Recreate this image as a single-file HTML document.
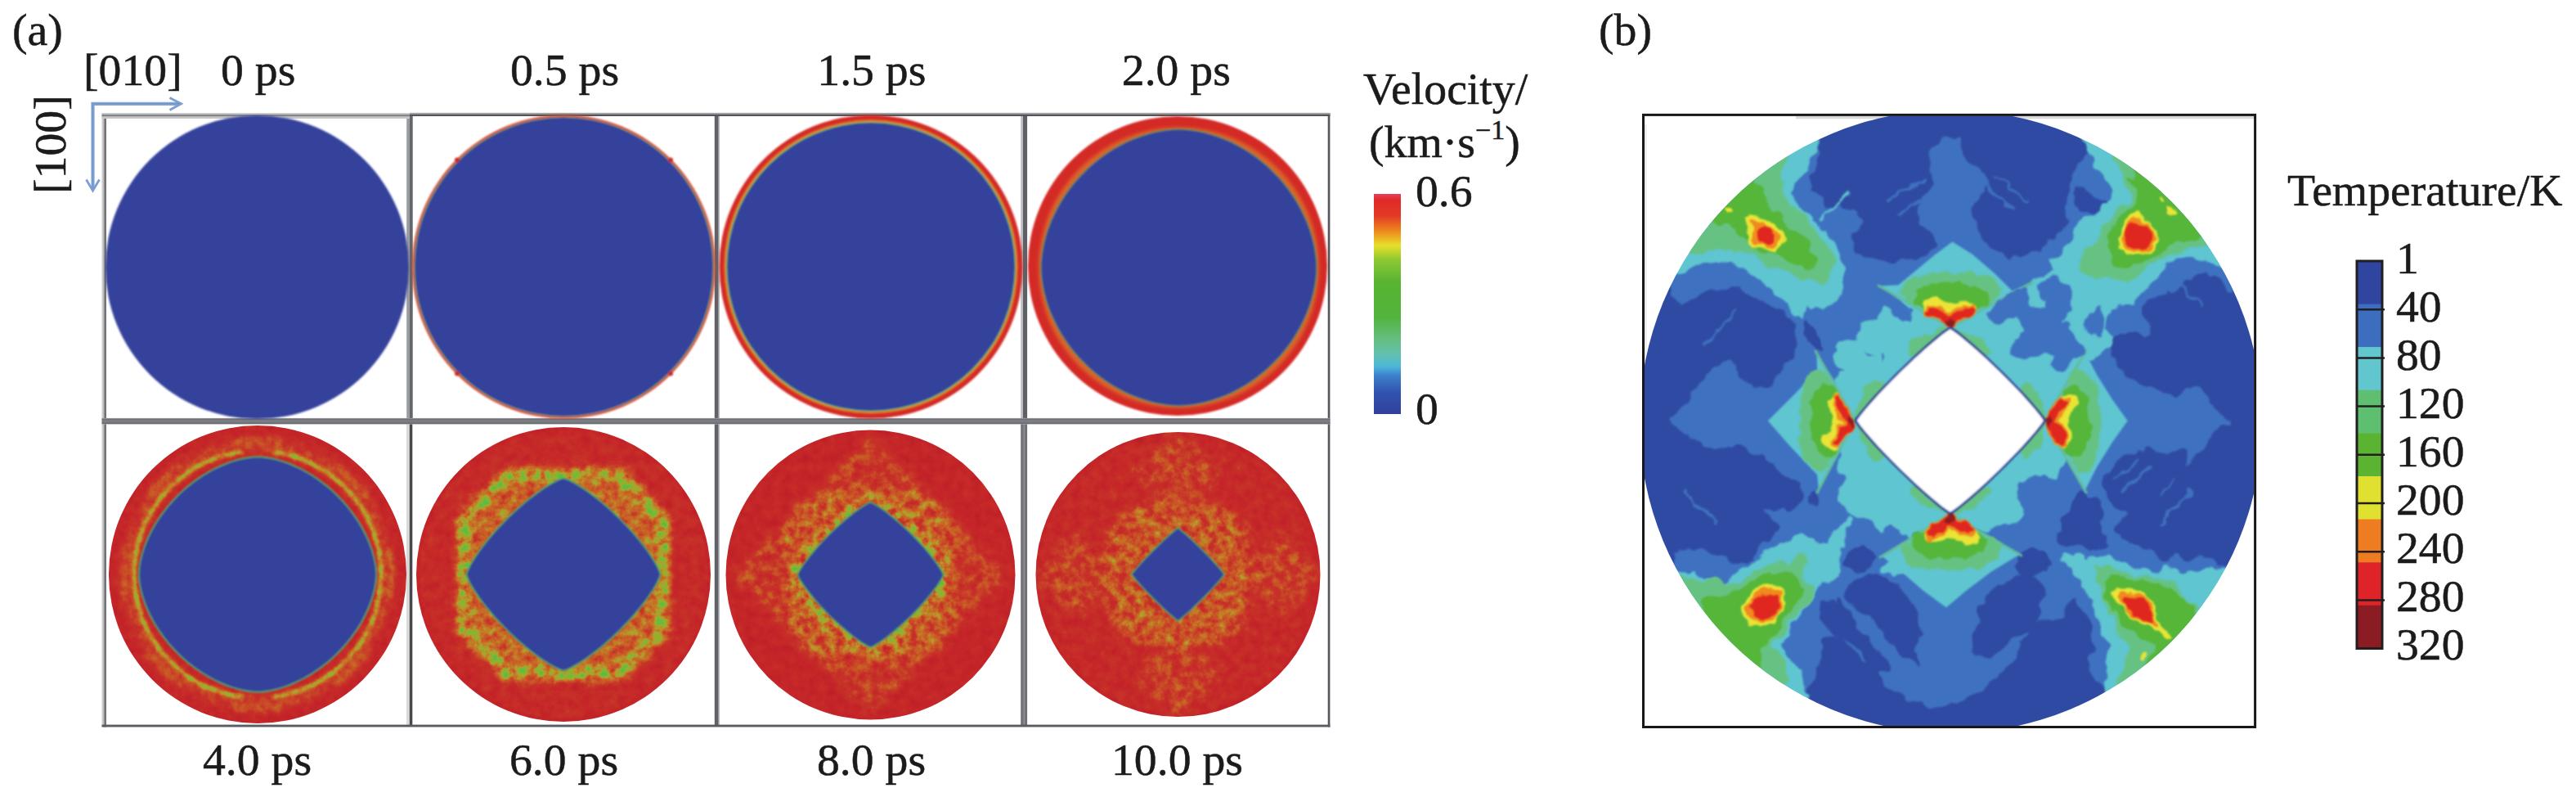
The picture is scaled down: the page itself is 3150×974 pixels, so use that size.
<!DOCTYPE html>
<html><head><meta charset="utf-8"><title>fig</title>
<style>
html,body{margin:0;padding:0;background:#fff;}
body{width:3150px;height:974px;overflow:hidden;font-family:"Liberation Serif",serif;}
svg{display:block;position:absolute;left:0;top:0}
</style></head><body>
<svg width="3150" height="974" viewBox="0 0 3150 974">
<defs>
<linearGradient id="gh" x1="0" y1="0" x2="0" y2="1">
 <stop offset="0" stop-color="#bcbcc0"/><stop offset="0.3" stop-color="#888a90"/><stop offset="1" stop-color="#62646a"/>
</linearGradient>
<linearGradient id="gv" x1="0" y1="0" x2="1" y2="0">
 <stop offset="0" stop-color="#bcbcc0"/><stop offset="0.3" stop-color="#888a90"/><stop offset="1" stop-color="#62646a"/>
</linearGradient>
<linearGradient id="gvL" x1="0" y1="0" x2="1" y2="0"><stop offset="0" stop-color="#d2d2d2"/><stop offset="0.45" stop-color="#bcbcbe"/><stop offset="0.6" stop-color="#77787c"/><stop offset="1" stop-color="#6e6f74"/></linearGradient>
<linearGradient id="gvC" x1="0" y1="0" x2="1" y2="0"><stop offset="0" stop-color="#6c6e74"/><stop offset="0.4" stop-color="#74767c"/><stop offset="0.5" stop-color="#a8a8ac"/><stop offset="0.6" stop-color="#74767c"/><stop offset="1" stop-color="#6a6c72"/></linearGradient>
<linearGradient id="gh1" x1="0" y1="0" x2="0" y2="1"><stop offset="0" stop-color="#d0d0d0"/><stop offset="0.22" stop-color="#c2c2c4"/><stop offset="0.3" stop-color="#85868c"/><stop offset="0.58" stop-color="#85868c"/><stop offset="0.66" stop-color="#c4c4c4"/><stop offset="1" stop-color="#c8c8c8"/></linearGradient>
<linearGradient id="gh2" x1="0" y1="0" x2="0" y2="1"><stop offset="0" stop-color="#b8b2b0"/><stop offset="0.45" stop-color="#8e8e92"/><stop offset="0.55" stop-color="#54585e"/><stop offset="1" stop-color="#50545a"/></linearGradient>
<linearGradient id="ghM" x1="0" y1="0" x2="0" y2="1"><stop offset="0" stop-color="#b4b4b8"/><stop offset="0.15" stop-color="#6c6e74"/><stop offset="0.5" stop-color="#808288"/><stop offset="0.85" stop-color="#696b71"/><stop offset="1" stop-color="#acacb0"/></linearGradient>
<linearGradient id="cbv" x1="0" y1="0" x2="0" y2="1">
 <stop offset="0" stop-color="#e4405a"/>
 <stop offset="0.03" stop-color="#e02a2a"/>
 <stop offset="0.10" stop-color="#e23a24"/>
 <stop offset="0.17" stop-color="#ee8a1e"/>
 <stop offset="0.235" stop-color="#e6e02a"/>
 <stop offset="0.30" stop-color="#8cc832"/>
 <stop offset="0.40" stop-color="#58b432"/>
 <stop offset="0.56" stop-color="#52b43c"/>
 <stop offset="0.66" stop-color="#66be80"/>
 <stop offset="0.73" stop-color="#62c0b0"/>
 <stop offset="0.785" stop-color="#4cb6d8"/>
 <stop offset="0.825" stop-color="#3c80cc"/>
 <stop offset="0.90" stop-color="#3054b0"/>
 <stop offset="1" stop-color="#30409c"/>
</linearGradient>
<filter id="b1" x="-5%" y="-5%" width="110%" height="110%"><feGaussianBlur stdDeviation="1"/></filter>
<filter id="b2" x="-5%" y="-5%" width="110%" height="110%"><feGaussianBlur stdDeviation="2"/></filter>
<filter id="b3" x="-10%" y="-10%" width="120%" height="120%"><feGaussianBlur stdDeviation="3.5"/></filter>
<filter id="b6" x="-10%" y="-10%" width="120%" height="120%"><feGaussianBlur stdDeviation="6"/></filter>
<filter id="b10" x="-20%" y="-20%" width="140%" height="140%"><feGaussianBlur stdDeviation="10"/></filter>

<filter id="nzA" x="0" y="0" width="100%" height="100%" color-interpolation-filters="sRGB" filterUnits="objectBoundingBox">
 <feTurbulence type="fractalNoise" baseFrequency="0.11" numOctaves="3" seed="3" result="t"/>
 <feColorMatrix in="t" type="matrix" values="1 0 0 0 0  1 0 0 0 0  1 0 0 0 0  0 0 0 0 1" result="n"/>
 <feColorMatrix in="SourceGraphic" type="matrix" values="1 0 0 0 0  1 0 0 0 0  1 0 0 0 0  0 0 0 0 1" result="f"/>
 <feComposite in="n" in2="f" operator="arithmetic" k1="0.5" k2="0.3" k3="0.95" k4="-0.02" result="v"/>
 <feColorMatrix in="v" type="matrix" values="1 0 0 0 0  1 0 0 0 0  1 0 0 0 0  0 0 0 0 1" result="v2"/>
 <feComponentTransfer in="v2">
  <feFuncR type="table" tableValues="0.73 0.775 0.78 0.79 0.78 0.70 0.52 0.36"/>
  <feFuncG type="table" tableValues="0.12 0.15 0.20 0.32 0.45 0.62 0.72 0.74"/>
  <feFuncB type="table" tableValues="0.15 0.16 0.16 0.15 0.15 0.17 0.20 0.26"/>
 </feComponentTransfer>
</filter>
<filter id="nzB" x="0" y="0" width="100%" height="100%" color-interpolation-filters="sRGB" filterUnits="objectBoundingBox">
 <feTurbulence type="fractalNoise" baseFrequency="0.09" numOctaves="3" seed="11" result="t"/>
 <feColorMatrix in="t" type="matrix" values="1 0 0 0 0  1 0 0 0 0  1 0 0 0 0  0 0 0 0 1" result="n"/>
 <feColorMatrix in="SourceGraphic" type="matrix" values="1 0 0 0 0  1 0 0 0 0  1 0 0 0 0  0 0 0 0 1" result="f"/>
 <feComposite in="n" in2="f" operator="arithmetic" k1="1.4" k2="0.3" k3="0.35" k4="-0.02" result="v"/>
 <feColorMatrix in="v" type="matrix" values="1 0 0 0 0  1 0 0 0 0  1 0 0 0 0  0 0 0 0 1" result="v2"/>
 <feComponentTransfer in="v2">
  <feFuncR type="table" tableValues="0.73 0.775 0.78 0.79 0.78 0.70 0.52 0.36"/>
  <feFuncG type="table" tableValues="0.12 0.15 0.20 0.32 0.45 0.62 0.72 0.74"/>
  <feFuncB type="table" tableValues="0.15 0.16 0.16 0.15 0.15 0.17 0.20 0.26"/>
 </feComponentTransfer>
</filter>
<filter id="nzC" x="0" y="0" width="100%" height="100%" color-interpolation-filters="sRGB" filterUnits="objectBoundingBox">
 <feTurbulence type="fractalNoise" baseFrequency="0.09" numOctaves="3" seed="23" result="t"/>
 <feColorMatrix in="t" type="matrix" values="1 0 0 0 0  1 0 0 0 0  1 0 0 0 0  0 0 0 0 1" result="n"/>
 <feColorMatrix in="SourceGraphic" type="matrix" values="1 0 0 0 0  1 0 0 0 0  1 0 0 0 0  0 0 0 0 1" result="f"/>
 <feComposite in="n" in2="f" operator="arithmetic" k1="1.8" k2="0.3" k3="0.1" k4="-0.02" result="v"/>
 <feColorMatrix in="v" type="matrix" values="1 0 0 0 0  1 0 0 0 0  1 0 0 0 0  0 0 0 0 1" result="v2"/>
 <feComponentTransfer in="v2">
  <feFuncR type="table" tableValues="0.73 0.775 0.78 0.79 0.78 0.70 0.52 0.36"/>
  <feFuncG type="table" tableValues="0.12 0.15 0.20 0.32 0.45 0.62 0.72 0.74"/>
  <feFuncB type="table" tableValues="0.15 0.16 0.16 0.15 0.15 0.17 0.20 0.26"/>
 </feComponentTransfer>
</filter>
<filter id="nzD" x="0" y="0" width="100%" height="100%" color-interpolation-filters="sRGB" filterUnits="objectBoundingBox">
 <feTurbulence type="fractalNoise" baseFrequency="0.09" numOctaves="3" seed="37" result="t"/>
 <feColorMatrix in="t" type="matrix" values="1 0 0 0 0  1 0 0 0 0  1 0 0 0 0  0 0 0 0 1" result="n"/>
 <feColorMatrix in="SourceGraphic" type="matrix" values="1 0 0 0 0  1 0 0 0 0  1 0 0 0 0  0 0 0 0 1" result="f"/>
 <feComposite in="n" in2="f" operator="arithmetic" k1="1.8" k2="0.3" k3="0.1" k4="-0.02" result="v"/>
 <feColorMatrix in="v" type="matrix" values="1 0 0 0 0  1 0 0 0 0  1 0 0 0 0  0 0 0 0 1" result="v2"/>
 <feComponentTransfer in="v2">
  <feFuncR type="table" tableValues="0.73 0.775 0.78 0.79 0.78 0.70 0.52 0.36"/>
  <feFuncG type="table" tableValues="0.12 0.15 0.20 0.32 0.45 0.62 0.72 0.74"/>
  <feFuncB type="table" tableValues="0.15 0.16 0.16 0.15 0.15 0.17 0.20 0.26"/>
 </feComponentTransfer>
</filter><clipPath id="clipnzA"><circle cx="315" cy="702" r="182"/></clipPath><clipPath id="clipnzB"><circle cx="689" cy="702" r="180"/></clipPath><clipPath id="clipnzC"><circle cx="1064.5" cy="702.5" r="177"/></clipPath><clipPath id="clipnzD"><circle cx="1440.5" cy="702" r="174"/></clipPath><clipPath id="clipb"><circle cx="2385.5" cy="515.2" r="380.8"/></clipPath><clipPath id="clipbox"><rect x="2011" y="141.9" width="745.1" height="745.1"/></clipPath><filter id="rag" x="0" y="0" width="100%" height="100%" filterUnits="objectBoundingBox" color-interpolation-filters="sRGB"><feTurbulence type="fractalNoise" baseFrequency="0.06" numOctaves="2" seed="7" result="t"/><feDisplacementMap in="SourceGraphic" in2="t" scale="14" xChannelSelector="R" yChannelSelector="G" result="d"/><feGaussianBlur in="d" stdDeviation="0.9"/></filter></defs>
<g id="grid">
<rect x="124.5" y="138" width="5.50" height="750.50" fill="url(#gvL)"/>
<rect x="497.2" y="138" width="3.80" height="377.00" fill="#9a9ca0"/>
<rect x="501" y="138" width="3.70" height="377.00" fill="#62666c"/>
<rect x="497" y="515" width="3.80" height="373.00" fill="#d9d9d9"/>
<rect x="500.8" y="515" width="3.50" height="373.00" fill="#46484c"/>
<rect x="873.8" y="138" width="4.80" height="750.00" fill="#606268"/>
<rect x="878.6" y="138" width="1.00" height="750.00" fill="#8e8f94"/>
<rect x="1248.2" y="138" width="2.80" height="377.00" fill="#bebec2"/>
<rect x="1251" y="138" width="5.10" height="377.00" fill="#5e6066"/>
<rect x="1248.2" y="515" width="7.90" height="373.00" fill="url(#gvC)"/>
<rect x="1623.7" y="138" width="2.70" height="750.50" fill="#55575c"/>
<rect x="124.5" y="138" width="376.50" height="7.00" fill="url(#gh1)"/>
<rect x="501" y="137.8" width="1125.40" height="4.20" fill="url(#gh2)"/>
<rect x="124.5" y="510.9" width="1501.90" height="7.70" fill="url(#ghM)"/>
<rect x="124.5" y="885.6" width="1501.90" height="2.90" fill="#5a5c62"/>
</g>
<g filter="url(#b1)">
<circle cx="314.5" cy="326.5" r="185.5" fill="#35429b"/>
<circle cx="689.5" cy="326" r="185.6" fill="#d63a2c"/>
<circle cx="689.5" cy="326" r="183.6" fill="#86a860"/>
<circle cx="689.5" cy="326" r="182.4" fill="#35429b"/>
<circle cx="559.0" cy="195.5" r="3" fill="#cc262a"/>
<circle cx="559.0" cy="456.5" r="3" fill="#cc262a"/>
<circle cx="820.0" cy="195.5" r="3" fill="#cc262a"/>
<circle cx="820.0" cy="456.5" r="3" fill="#cc262a"/>
<circle cx="1065" cy="326" r="185.5" fill="#d42a28"/>
<circle cx="1065" cy="326" r="180" fill="#dc5a26"/>
<circle cx="1065" cy="326" r="178.3" fill="#d4a030"/>
<circle cx="1065" cy="326" r="177" fill="#58a070"/>
<circle cx="1065" cy="326" r="175.7" fill="#35429b"/>
<circle cx="1440" cy="325" r="183" fill="#d42a28"/>
</g>
<g filter="url(#b2)"><circle cx="1441.5" cy="327" r="171.5" fill="#d9652a"/></g>
<g filter="url(#b1)"><path d="M1611.0,327.0 L1610.8,334.1 L1610.0,342.0 L1608.8,350.1 L1607.0,358.4 L1604.8,366.7 L1602.1,375.1 L1598.9,383.4 L1595.3,391.6 L1591.2,399.7 L1586.7,407.7 L1581.8,415.4 L1576.5,423.0 L1570.8,430.3 L1564.7,437.4 L1558.3,444.1 L1551.5,450.5 L1544.5,456.6 L1537.2,462.4 L1529.7,467.7 L1521.9,472.6 L1514.0,477.2 L1505.9,481.2 L1497.7,484.9 L1489.4,488.1 L1481.1,490.8 L1472.8,493.0 L1464.6,494.8 L1456.4,496.0 L1448.6,496.7 L1441.5,497.0 L1434.4,496.7 L1426.6,496.0 L1418.4,494.8 L1410.2,493.0 L1401.9,490.8 L1393.6,488.1 L1385.3,484.9 L1377.1,481.2 L1369.0,477.2 L1361.1,472.6 L1353.3,467.7 L1345.8,462.4 L1338.5,456.6 L1331.5,450.5 L1324.7,444.1 L1318.3,437.4 L1312.2,430.3 L1306.5,423.0 L1301.2,415.4 L1296.3,407.7 L1291.8,399.7 L1287.7,391.6 L1284.1,383.4 L1280.9,375.1 L1278.2,366.7 L1276.0,358.4 L1274.2,350.1 L1273.0,342.0 L1272.2,334.1 L1272.0,327.0 L1272.2,319.9 L1273.0,312.0 L1274.2,303.9 L1276.0,295.6 L1278.2,287.3 L1280.9,278.9 L1284.1,270.6 L1287.7,262.4 L1291.8,254.3 L1296.3,246.3 L1301.2,238.6 L1306.5,231.0 L1312.2,223.7 L1318.3,216.6 L1324.7,209.9 L1331.5,203.5 L1338.5,197.4 L1345.8,191.6 L1353.3,186.3 L1361.1,181.4 L1369.0,176.8 L1377.1,172.8 L1385.3,169.1 L1393.6,165.9 L1401.9,163.2 L1410.2,161.0 L1418.4,159.2 L1426.6,158.0 L1434.4,157.3 L1441.5,157.0 L1448.6,157.3 L1456.4,158.0 L1464.6,159.2 L1472.8,161.0 L1481.1,163.2 L1489.4,165.9 L1497.7,169.1 L1505.9,172.8 L1514.0,176.8 L1521.9,181.4 L1529.7,186.3 L1537.2,191.6 L1544.5,197.4 L1551.5,203.5 L1558.3,209.9 L1564.7,216.6 L1570.8,223.7 L1576.5,231.0 L1581.8,238.6 L1586.7,246.3 L1591.2,254.3 L1595.3,262.4 L1598.9,270.6 L1602.1,278.9 L1604.8,287.3 L1607.0,295.6 L1608.8,303.9 L1610.0,312.0 L1610.8,319.9Z" fill="#7a8a50"/><path d="M1609.5,327.0 L1609.3,334.1 L1608.5,341.9 L1607.3,349.9 L1605.6,358.1 L1603.4,366.4 L1600.7,374.7 L1597.5,382.9 L1593.9,391.0 L1589.9,399.1 L1585.4,407.0 L1580.5,414.7 L1575.3,422.2 L1569.6,429.4 L1563.6,436.4 L1557.2,443.1 L1550.6,449.5 L1543.6,455.5 L1536.4,461.2 L1528.9,466.5 L1521.2,471.4 L1513.4,475.8 L1505.4,479.9 L1497.2,483.5 L1489.0,486.6 L1480.8,489.3 L1472.5,491.5 L1464.4,493.3 L1456.3,494.5 L1448.5,495.3 L1441.5,495.5 L1434.5,495.3 L1426.7,494.5 L1418.6,493.3 L1410.5,491.5 L1402.2,489.3 L1394.0,486.6 L1385.8,483.5 L1377.6,479.9 L1369.6,475.8 L1361.8,471.4 L1354.1,466.5 L1346.6,461.2 L1339.4,455.5 L1332.4,449.5 L1325.8,443.1 L1319.4,436.4 L1313.4,429.4 L1307.7,422.2 L1302.5,414.7 L1297.6,407.0 L1293.1,399.1 L1289.1,391.0 L1285.5,382.9 L1282.3,374.7 L1279.6,366.4 L1277.4,358.1 L1275.7,349.9 L1274.5,341.9 L1273.7,334.1 L1273.5,327.0 L1273.7,319.9 L1274.5,312.1 L1275.7,304.1 L1277.4,295.9 L1279.6,287.6 L1282.3,279.3 L1285.5,271.1 L1289.1,263.0 L1293.1,254.9 L1297.6,247.0 L1302.5,239.3 L1307.7,231.8 L1313.4,224.6 L1319.4,217.6 L1325.8,210.9 L1332.4,204.5 L1339.4,198.5 L1346.6,192.8 L1354.1,187.5 L1361.8,182.6 L1369.6,178.2 L1377.6,174.1 L1385.8,170.5 L1394.0,167.4 L1402.2,164.7 L1410.5,162.5 L1418.6,160.7 L1426.7,159.5 L1434.5,158.7 L1441.5,158.5 L1448.5,158.7 L1456.3,159.5 L1464.4,160.7 L1472.5,162.5 L1480.8,164.7 L1489.0,167.4 L1497.2,170.5 L1505.4,174.1 L1513.4,178.2 L1521.2,182.6 L1528.9,187.5 L1536.4,192.8 L1543.6,198.5 L1550.6,204.5 L1557.2,210.9 L1563.6,217.6 L1569.6,224.6 L1575.3,231.8 L1580.5,239.3 L1585.4,247.0 L1589.9,254.9 L1593.9,263.0 L1597.5,271.1 L1600.7,279.3 L1603.4,287.6 L1605.6,295.9 L1607.3,304.1 L1608.5,312.1 L1609.3,319.9Z" fill="#35429b"/></g>
<g clip-path="url(#clipnzA)">
<g filter="url(#nzA)"><rect x="127" y="514" width="376" height="376" fill="#000"/><g filter="url(#b6)"><circle cx="315" cy="702" r="157" fill="none" stroke="#333333" stroke-width="18"/></g><g filter="url(#b2)"><circle cx="315" cy="702" r="151" fill="none" stroke="#a3a3a3" stroke-width="4.5" stroke-dasharray="437 37.4" stroke-dashoffset="-255.9"/></g><g filter="url(#b3)"><circle cx="315" cy="702" r="164" fill="none" stroke="#4c4c4c" stroke-width="7" stroke-dasharray="60 68.8" stroke-dashoffset="-98"/></g></g>
</g>
<circle cx="315" cy="702" r="182" fill="none" stroke="#fff" stroke-width="0"/>
<g filter="url(#b1)"><path d="M461.3,702.0 L461.1,706.9 L460.4,712.8 L459.2,719.2 L457.6,725.8 L455.6,732.6 L453.1,739.5 L450.2,746.5 L446.9,753.5 L443.1,760.4 L439.0,767.3 L434.5,774.0 L429.7,780.6 L424.5,787.0 L419.0,793.2 L413.2,799.2 L407.2,804.9 L400.9,810.4 L394.4,815.5 L387.8,820.3 L381.0,824.7 L374.0,828.8 L367.0,832.5 L360.0,835.8 L352.9,838.7 L345.9,841.1 L339.1,843.2 L332.3,844.8 L325.9,845.9 L319.9,846.6 L315.0,846.8 L310.1,846.6 L304.1,845.9 L297.7,844.8 L290.9,843.2 L284.1,841.1 L277.1,838.7 L270.0,835.8 L263.0,832.5 L256.0,828.8 L249.0,824.7 L242.2,820.3 L235.6,815.5 L229.1,810.4 L222.8,804.9 L216.8,799.2 L211.0,793.2 L205.5,787.0 L200.3,780.6 L195.5,774.0 L191.0,767.3 L186.9,760.4 L183.1,753.5 L179.8,746.5 L176.9,739.5 L174.4,732.6 L172.4,725.8 L170.8,719.2 L169.6,712.8 L168.9,706.9 L168.7,702.0 L168.9,697.1 L169.6,691.2 L170.8,684.8 L172.4,678.2 L174.4,671.4 L176.9,664.5 L179.8,657.5 L183.1,650.5 L186.9,643.6 L191.0,636.7 L195.5,630.0 L200.3,623.4 L205.5,617.0 L211.0,610.8 L216.8,604.8 L222.8,599.1 L229.1,593.6 L235.6,588.5 L242.2,583.7 L249.0,579.3 L256.0,575.2 L263.0,571.5 L270.0,568.2 L277.1,565.3 L284.1,562.9 L290.9,560.8 L297.7,559.2 L304.1,558.1 L310.1,557.4 L315.0,557.2 L319.9,557.4 L325.9,558.1 L332.3,559.2 L339.1,560.8 L345.9,562.9 L352.9,565.3 L360.0,568.2 L367.0,571.5 L374.0,575.2 L381.0,579.3 L387.8,583.7 L394.4,588.5 L400.9,593.6 L407.2,599.1 L413.2,604.8 L419.0,610.8 L424.5,617.0 L429.7,623.4 L434.5,630.0 L439.0,636.7 L443.1,643.6 L446.9,650.5 L450.2,657.5 L453.1,664.5 L455.6,671.4 L457.6,678.2 L459.2,684.8 L460.4,691.2 L461.1,697.1Z" fill="#5aa860"/><path d="M459.5,702.0 L459.3,706.8 L458.6,712.7 L457.5,719.0 L455.9,725.5 L453.9,732.2 L451.4,739.1 L448.5,746.0 L445.2,752.8 L441.5,759.7 L437.5,766.5 L433.0,773.1 L428.3,779.6 L423.1,786.0 L417.7,792.1 L412.0,798.0 L406.1,803.7 L399.9,809.0 L393.5,814.1 L386.9,818.8 L380.1,823.2 L373.3,827.2 L366.4,830.9 L359.4,834.1 L352.5,837.0 L345.6,839.4 L338.8,841.4 L332.1,843.0 L325.8,844.1 L319.9,844.8 L315.0,845.0 L310.1,844.8 L304.2,844.1 L297.9,843.0 L291.2,841.4 L284.4,839.4 L277.5,837.0 L270.6,834.1 L263.6,830.9 L256.7,827.2 L249.9,823.2 L243.1,818.8 L236.5,814.1 L230.1,809.0 L223.9,803.7 L218.0,798.0 L212.3,792.1 L206.9,786.0 L201.7,779.6 L197.0,773.1 L192.5,766.5 L188.5,759.7 L184.8,752.8 L181.5,746.0 L178.6,739.1 L176.1,732.2 L174.1,725.5 L172.5,719.0 L171.4,712.7 L170.7,706.8 L170.5,702.0 L170.7,697.2 L171.4,691.3 L172.5,685.0 L174.1,678.5 L176.1,671.8 L178.6,664.9 L181.5,658.0 L184.8,651.2 L188.5,644.3 L192.5,637.5 L197.0,630.9 L201.7,624.4 L206.9,618.0 L212.3,611.9 L218.0,606.0 L223.9,600.3 L230.1,595.0 L236.5,589.9 L243.1,585.2 L249.9,580.8 L256.7,576.8 L263.6,573.1 L270.6,569.9 L277.5,567.0 L284.4,564.6 L291.2,562.6 L297.9,561.0 L304.2,559.9 L310.1,559.2 L315.0,559.0 L319.9,559.2 L325.8,559.9 L332.1,561.0 L338.8,562.6 L345.6,564.6 L352.5,567.0 L359.4,569.9 L366.4,573.1 L373.3,576.8 L380.1,580.8 L386.9,585.2 L393.5,589.9 L399.9,595.0 L406.1,600.3 L412.0,606.0 L417.7,611.9 L423.1,618.0 L428.3,624.4 L433.0,630.9 L437.5,637.5 L441.5,644.3 L445.2,651.2 L448.5,658.0 L451.4,664.9 L453.9,671.8 L455.9,678.5 L457.5,685.0 L458.6,691.3 L459.3,697.2Z" fill="#35429b"/></g>
<g clip-path="url(#clipnzB)">
<g filter="url(#nzB)"><rect x="503" y="516" width="372" height="372" fill="#000"/><g filter="url(#b6)"><circle cx="689" cy="702" r="176" fill="#0f0f0f"/><path d="M621,581 L757,581 L810,634 L810,770 L757,823 L621,823 L568,770 L568,634Z" fill="#5c5c5c" stroke="#5c5c5c" stroke-width="14" stroke-linejoin="round"/></g><g filter="url(#b3)"><path d="M621,581 L757,581 L810,634 L810,770 L757,823 L621,823 L568,770 L568,634Z" fill="none" stroke="#999999" stroke-width="13" stroke-linejoin="round"/></g></g>
</g>
<circle cx="689" cy="702" r="180" fill="none" stroke="#fff" stroke-width="0"/>
<g filter="url(#b1)"><path d="M808.8,702.0 L808.5,703.1 L807.8,705.4 L806.5,708.4 L804.7,712.0 L802.4,716.1 L799.7,720.7 L796.5,725.6 L792.9,730.8 L788.9,736.3 L784.5,741.9 L779.8,747.6 L774.8,753.4 L769.5,759.3 L764.1,765.1 L758.4,770.8 L752.6,776.4 L746.8,781.9 L740.9,787.1 L735.0,792.1 L729.2,796.7 L723.5,801.1 L718.1,805.0 L712.8,808.6 L707.8,811.8 L703.3,814.5 L699.1,816.7 L695.5,818.5 L692.4,819.8 L690.2,820.5 L689.0,820.8 L687.8,820.5 L685.6,819.8 L682.5,818.5 L678.9,816.7 L674.7,814.5 L670.2,811.8 L665.2,808.6 L659.9,805.0 L654.5,801.1 L648.8,796.7 L643.0,792.1 L637.1,787.1 L631.2,781.9 L625.4,776.4 L619.6,770.8 L613.9,765.1 L608.5,759.3 L603.2,753.4 L598.2,747.6 L593.5,741.9 L589.1,736.3 L585.1,730.8 L581.5,725.6 L578.3,720.7 L575.6,716.1 L573.3,712.0 L571.5,708.4 L570.2,705.4 L569.5,703.1 L569.2,702.0 L569.5,700.9 L570.2,698.6 L571.5,695.6 L573.3,692.0 L575.6,687.9 L578.3,683.3 L581.5,678.4 L585.1,673.2 L589.1,667.7 L593.5,662.1 L598.2,656.4 L603.2,650.6 L608.5,644.7 L613.9,638.9 L619.6,633.2 L625.4,627.6 L631.2,622.1 L637.1,616.9 L643.0,611.9 L648.8,607.3 L654.5,602.9 L659.9,599.0 L665.2,595.4 L670.2,592.2 L674.7,589.5 L678.9,587.3 L682.5,585.5 L685.6,584.2 L687.8,583.5 L689.0,583.2 L690.2,583.5 L692.4,584.2 L695.5,585.5 L699.1,587.3 L703.3,589.5 L707.8,592.2 L712.8,595.4 L718.1,599.0 L723.5,602.9 L729.2,607.3 L735.0,611.9 L740.9,616.9 L746.8,622.1 L752.6,627.6 L758.4,633.2 L764.1,638.9 L769.5,644.7 L774.8,650.6 L779.8,656.4 L784.5,662.1 L788.9,667.7 L792.9,673.2 L796.5,678.4 L799.7,683.3 L802.4,687.9 L804.7,692.0 L806.5,695.6 L807.8,698.6 L808.5,700.9Z" fill="#58b060"/><path d="M807.0,702.0 L806.7,703.1 L806.0,705.3 L804.7,708.3 L803.0,711.9 L800.7,715.9 L798.0,720.4 L794.9,725.2 L791.3,730.4 L787.4,735.7 L783.1,741.3 L778.4,746.9 L773.5,752.7 L768.3,758.4 L762.9,764.1 L757.4,769.8 L751.7,775.3 L745.9,780.7 L740.1,785.8 L734.3,790.7 L728.6,795.3 L723.0,799.6 L717.6,803.5 L712.4,807.0 L707.6,810.1 L703.0,812.8 L698.9,815.0 L695.4,816.7 L692.4,818.0 L690.1,818.7 L689.0,819.0 L687.9,818.7 L685.6,818.0 L682.6,816.7 L679.1,815.0 L675.0,812.8 L670.4,810.1 L665.6,807.0 L660.4,803.5 L655.0,799.6 L649.4,795.3 L643.7,790.7 L637.9,785.8 L632.1,780.7 L626.3,775.3 L620.6,769.8 L615.1,764.1 L609.7,758.4 L604.5,752.7 L599.6,746.9 L594.9,741.3 L590.6,735.7 L586.7,730.4 L583.1,725.2 L580.0,720.4 L577.3,715.9 L575.0,711.9 L573.3,708.3 L572.0,705.3 L571.3,703.1 L571.0,702.0 L571.3,700.9 L572.0,698.7 L573.3,695.7 L575.0,692.1 L577.3,688.1 L580.0,683.6 L583.1,678.8 L586.7,673.6 L590.6,668.3 L594.9,662.7 L599.6,657.1 L604.5,651.3 L609.7,645.6 L615.1,639.9 L620.6,634.2 L626.3,628.7 L632.1,623.3 L637.9,618.2 L643.7,613.3 L649.4,608.7 L655.0,604.4 L660.4,600.5 L665.6,597.0 L670.4,593.9 L675.0,591.2 L679.1,589.0 L682.6,587.3 L685.6,586.0 L687.9,585.3 L689.0,585.0 L690.1,585.3 L692.4,586.0 L695.4,587.3 L698.9,589.0 L703.0,591.2 L707.6,593.9 L712.4,597.0 L717.6,600.5 L723.0,604.4 L728.6,608.7 L734.3,613.3 L740.1,618.2 L745.9,623.3 L751.7,628.7 L757.4,634.2 L762.9,639.9 L768.3,645.6 L773.5,651.3 L778.4,657.1 L783.1,662.7 L787.4,668.3 L791.3,673.6 L794.9,678.8 L798.0,683.6 L800.7,688.1 L803.0,692.1 L804.7,695.7 L806.0,698.7 L806.7,700.9Z" fill="#35429b"/></g>
<g clip-path="url(#clipnzC)">
<g filter="url(#nzC)"><rect x="881.5" y="519.5" width="366" height="366" fill="#000"/><g filter="url(#b6)"><path d="M1226.5,702.5 L1226.1,702.9 L1224.7,704.3 L1222.5,706.5 L1219.5,709.5 L1215.6,713.4 L1211.0,718.0 L1205.7,723.3 L1199.7,729.3 L1193.1,735.9 L1186.0,743.0 L1178.4,750.6 L1170.5,758.5 L1162.3,766.7 L1154.0,775.0 L1145.5,783.5 L1137.0,792.0 L1128.7,800.3 L1120.5,808.5 L1112.6,816.4 L1105.0,824.0 L1097.9,831.1 L1091.3,837.7 L1085.3,843.7 L1080.0,849.0 L1075.4,853.6 L1071.5,857.5 L1068.5,860.5 L1066.3,862.7 L1064.9,864.1 L1064.5,864.5 L1064.1,864.1 L1062.7,862.7 L1060.5,860.5 L1057.5,857.5 L1053.6,853.6 L1049.0,849.0 L1043.7,843.7 L1037.7,837.7 L1031.1,831.1 L1024.0,824.0 L1016.4,816.4 L1008.5,808.5 L1000.3,800.3 L992.0,792.0 L983.5,783.5 L975.0,775.0 L966.7,766.7 L958.5,758.5 L950.6,750.6 L943.0,743.0 L935.9,735.9 L929.3,729.3 L923.3,723.3 L918.0,718.0 L913.4,713.4 L909.5,709.5 L906.5,706.5 L904.3,704.3 L902.9,702.9 L902.5,702.5 L902.9,702.1 L904.3,700.7 L906.5,698.5 L909.5,695.5 L913.4,691.6 L918.0,687.0 L923.3,681.7 L929.3,675.7 L935.9,669.1 L943.0,662.0 L950.6,654.4 L958.5,646.5 L966.7,638.3 L975.0,630.0 L983.5,621.5 L992.0,613.0 L1000.3,604.7 L1008.5,596.5 L1016.4,588.6 L1024.0,581.0 L1031.1,573.9 L1037.7,567.3 L1043.7,561.3 L1049.0,556.0 L1053.6,551.4 L1057.5,547.5 L1060.5,544.5 L1062.7,542.3 L1064.1,540.9 L1064.5,540.5 L1064.9,540.9 L1066.3,542.3 L1068.5,544.5 L1071.5,547.5 L1075.4,551.4 L1080.0,556.0 L1085.3,561.3 L1091.3,567.3 L1097.9,573.9 L1105.0,581.0 L1112.6,588.6 L1120.5,596.5 L1128.7,604.7 L1137.0,613.0 L1145.5,621.5 L1154.0,630.0 L1162.3,638.3 L1170.5,646.5 L1178.4,654.4 L1186.0,662.0 L1193.1,669.1 L1199.7,675.7 L1205.7,681.7 L1211.0,687.0 L1215.6,691.6 L1219.5,695.5 L1222.5,698.5 L1224.7,700.7 L1226.1,702.1Z" fill="#292929" stroke="#424242" stroke-width="10"/><path d="M1168.5,702.5 L1168.4,726.3 L1168.2,736.1 L1167.9,743.6 L1167.4,749.9 L1166.7,755.4 L1165.9,760.3 L1165.0,764.8 L1163.9,768.8 L1162.7,772.6 L1161.3,776.0 L1159.7,779.3 L1158.0,782.2 L1156.2,785.0 L1154.2,787.6 L1152.0,790.0 L1149.6,792.2 L1147.0,794.2 L1144.2,796.0 L1141.3,797.7 L1138.0,799.3 L1134.6,800.7 L1130.8,801.9 L1126.8,803.0 L1122.3,803.9 L1117.4,804.7 L1111.9,805.4 L1105.6,805.9 L1098.1,806.2 L1088.3,806.4 L1064.5,806.5 L1040.7,806.4 L1030.9,806.2 L1023.4,805.9 L1017.1,805.4 L1011.6,804.7 L1006.7,803.9 L1002.2,803.0 L998.2,801.9 L994.4,800.7 L991.0,799.3 L987.7,797.7 L984.8,796.0 L982.0,794.2 L979.4,792.2 L977.0,790.0 L974.8,787.6 L972.8,785.0 L971.0,782.2 L969.3,779.3 L967.7,776.0 L966.3,772.6 L965.1,768.8 L964.0,764.8 L963.1,760.3 L962.3,755.4 L961.6,749.9 L961.1,743.6 L960.8,736.1 L960.6,726.3 L960.5,702.5 L960.6,678.7 L960.8,668.9 L961.1,661.4 L961.6,655.1 L962.3,649.6 L963.1,644.7 L964.0,640.2 L965.1,636.2 L966.3,632.4 L967.7,629.0 L969.3,625.7 L971.0,622.8 L972.8,620.0 L974.8,617.4 L977.0,615.0 L979.4,612.8 L982.0,610.8 L984.8,609.0 L987.7,607.3 L991.0,605.7 L994.4,604.3 L998.2,603.1 L1002.2,602.0 L1006.7,601.1 L1011.6,600.3 L1017.1,599.6 L1023.4,599.1 L1030.9,598.8 L1040.7,598.6 L1064.5,598.5 L1088.3,598.6 L1098.1,598.8 L1105.6,599.1 L1111.9,599.6 L1117.4,600.3 L1122.3,601.1 L1126.8,602.0 L1130.8,603.1 L1134.6,604.3 L1138.0,605.7 L1141.3,607.3 L1144.2,609.0 L1147.0,610.8 L1149.6,612.8 L1152.0,615.0 L1154.2,617.4 L1156.2,620.0 L1158.0,622.8 L1159.7,625.7 L1161.3,629.0 L1162.7,632.4 L1163.9,636.2 L1165.0,640.2 L1165.9,644.7 L1166.7,649.6 L1167.4,655.1 L1167.9,661.4 L1168.2,668.9 L1168.4,678.7Z" fill="#545454"/></g><g filter="url(#b3)"><path d="M1162.5,702.5 L1162.3,703.7 L1161.7,706.0 L1160.7,708.8 L1159.3,712.1 L1157.6,715.7 L1155.5,719.7 L1153.0,723.9 L1150.2,728.3 L1147.1,732.9 L1143.7,737.6 L1140.0,742.3 L1136.1,747.1 L1132.0,751.8 L1127.6,756.5 L1123.1,761.1 L1118.5,765.6 L1113.8,770.0 L1109.1,774.1 L1104.3,778.0 L1099.6,781.7 L1094.9,785.1 L1090.3,788.2 L1085.9,791.0 L1081.7,793.5 L1077.7,795.6 L1074.1,797.3 L1070.8,798.7 L1068.0,799.7 L1065.7,800.3 L1064.5,800.5 L1063.3,800.3 L1061.0,799.7 L1058.2,798.7 L1054.9,797.3 L1051.3,795.6 L1047.3,793.5 L1043.1,791.0 L1038.7,788.2 L1034.1,785.1 L1029.4,781.7 L1024.7,778.0 L1019.9,774.1 L1015.2,770.0 L1010.5,765.6 L1005.9,761.1 L1001.4,756.5 L997.0,751.8 L992.9,747.1 L989.0,742.3 L985.3,737.6 L981.9,732.9 L978.8,728.3 L976.0,723.9 L973.5,719.7 L971.4,715.7 L969.7,712.1 L968.3,708.8 L967.3,706.0 L966.7,703.7 L966.5,702.5 L966.7,701.3 L967.3,699.0 L968.3,696.2 L969.7,692.9 L971.4,689.3 L973.5,685.3 L976.0,681.1 L978.8,676.7 L981.9,672.1 L985.3,667.4 L989.0,662.7 L992.9,657.9 L997.0,653.2 L1001.4,648.5 L1005.9,643.9 L1010.5,639.4 L1015.2,635.0 L1019.9,630.9 L1024.7,627.0 L1029.4,623.3 L1034.1,619.9 L1038.7,616.8 L1043.1,614.0 L1047.3,611.5 L1051.3,609.4 L1054.9,607.7 L1058.2,606.3 L1061.0,605.3 L1063.3,604.7 L1064.5,604.5 L1065.7,604.7 L1068.0,605.3 L1070.8,606.3 L1074.1,607.7 L1077.7,609.4 L1081.7,611.5 L1085.9,614.0 L1090.3,616.8 L1094.9,619.9 L1099.6,623.3 L1104.3,627.0 L1109.1,630.9 L1113.8,635.0 L1118.5,639.4 L1123.1,643.9 L1127.6,648.5 L1132.0,653.2 L1136.1,657.9 L1140.0,662.7 L1143.7,667.4 L1147.1,672.1 L1150.2,676.7 L1153.0,681.1 L1155.5,685.3 L1157.6,689.3 L1159.3,692.9 L1160.7,696.2 L1161.7,699.0 L1162.3,701.3Z" fill="#808080"/></g></g>
</g>
<circle cx="1064.5" cy="702.5" r="177" fill="none" stroke="#fff" stroke-width="0"/>
<g filter="url(#b1)"><path d="M1154.8,702.5 L1154.6,703.2 L1154.0,704.6 L1153.0,706.6 L1151.5,709.1 L1149.7,711.9 L1147.6,715.2 L1145.0,718.7 L1142.2,722.6 L1139.0,726.6 L1135.6,730.8 L1131.9,735.1 L1127.9,739.5 L1123.8,744.0 L1119.6,748.5 L1115.2,752.9 L1110.7,757.3 L1106.2,761.5 L1101.7,765.6 L1097.3,769.5 L1092.9,773.2 L1088.7,776.6 L1084.7,779.7 L1080.8,782.6 L1077.3,785.1 L1074.0,787.3 L1071.1,789.1 L1068.6,790.5 L1066.6,791.5 L1065.2,792.1 L1064.5,792.3 L1063.8,792.1 L1062.4,791.5 L1060.4,790.5 L1057.9,789.1 L1055.0,787.3 L1051.7,785.1 L1048.2,782.6 L1044.3,779.7 L1040.3,776.6 L1036.1,773.2 L1031.7,769.5 L1027.3,765.6 L1022.8,761.5 L1018.3,757.3 L1013.8,752.9 L1009.4,748.5 L1005.2,744.0 L1001.1,739.5 L997.1,735.1 L993.4,730.8 L990.0,726.6 L986.8,722.6 L984.0,718.7 L981.4,715.2 L979.3,711.9 L977.5,709.1 L976.0,706.6 L975.0,704.6 L974.4,703.2 L974.2,702.5 L974.4,701.8 L975.0,700.4 L976.0,698.4 L977.5,695.9 L979.3,693.1 L981.4,689.8 L984.0,686.3 L986.8,682.4 L990.0,678.4 L993.4,674.2 L997.1,669.9 L1001.1,665.5 L1005.2,661.0 L1009.4,656.5 L1013.8,652.1 L1018.3,647.7 L1022.8,643.5 L1027.3,639.4 L1031.7,635.5 L1036.1,631.8 L1040.3,628.4 L1044.3,625.3 L1048.2,622.4 L1051.7,619.9 L1055.0,617.7 L1057.9,615.9 L1060.4,614.5 L1062.4,613.5 L1063.8,612.9 L1064.5,612.7 L1065.2,612.9 L1066.6,613.5 L1068.6,614.5 L1071.1,615.9 L1074.0,617.7 L1077.3,619.9 L1080.8,622.4 L1084.7,625.3 L1088.7,628.4 L1092.9,631.8 L1097.3,635.5 L1101.7,639.4 L1106.2,643.5 L1110.7,647.7 L1115.2,652.1 L1119.6,656.5 L1123.8,661.0 L1127.9,665.5 L1131.9,669.9 L1135.6,674.2 L1139.0,678.4 L1142.2,682.4 L1145.0,686.3 L1147.6,689.8 L1149.7,693.1 L1151.5,695.9 L1153.0,698.4 L1154.0,700.4 L1154.6,701.8Z" fill="#5aa860"/><path d="M1153.0,702.5 L1152.8,703.1 L1152.2,704.5 L1151.2,706.5 L1149.8,708.9 L1148.0,711.8 L1145.9,714.9 L1143.4,718.4 L1140.6,722.1 L1137.5,726.1 L1134.1,730.2 L1130.5,734.5 L1126.7,738.8 L1122.6,743.2 L1118.5,747.5 L1114.2,751.9 L1109.8,756.2 L1105.4,760.3 L1101.0,764.3 L1096.6,768.1 L1092.4,771.7 L1088.2,775.1 L1084.3,778.2 L1080.5,781.0 L1077.0,783.4 L1073.8,785.6 L1071.0,787.3 L1068.5,788.7 L1066.6,789.7 L1065.1,790.3 L1064.5,790.5 L1063.9,790.3 L1062.4,789.7 L1060.5,788.7 L1058.0,787.3 L1055.2,785.6 L1052.0,783.4 L1048.5,781.0 L1044.7,778.2 L1040.8,775.1 L1036.6,771.7 L1032.4,768.1 L1028.0,764.3 L1023.6,760.3 L1019.2,756.2 L1014.8,751.9 L1010.5,747.5 L1006.4,743.2 L1002.3,738.8 L998.5,734.5 L994.9,730.2 L991.5,726.1 L988.4,722.1 L985.6,718.4 L983.1,714.9 L981.0,711.8 L979.2,708.9 L977.8,706.5 L976.8,704.5 L976.2,703.1 L976.0,702.5 L976.2,701.9 L976.8,700.5 L977.8,698.5 L979.2,696.1 L981.0,693.2 L983.1,690.1 L985.6,686.6 L988.4,682.9 L991.5,678.9 L994.9,674.8 L998.5,670.5 L1002.3,666.2 L1006.4,661.8 L1010.5,657.5 L1014.8,653.1 L1019.2,648.8 L1023.6,644.7 L1028.0,640.7 L1032.4,636.9 L1036.6,633.3 L1040.8,629.9 L1044.7,626.8 L1048.5,624.0 L1052.0,621.6 L1055.2,619.4 L1058.0,617.7 L1060.5,616.3 L1062.4,615.3 L1063.9,614.7 L1064.5,614.5 L1065.1,614.7 L1066.6,615.3 L1068.5,616.3 L1071.0,617.7 L1073.8,619.4 L1077.0,621.6 L1080.5,624.0 L1084.3,626.8 L1088.2,629.9 L1092.4,633.3 L1096.6,636.9 L1101.0,640.7 L1105.4,644.7 L1109.8,648.8 L1114.2,653.1 L1118.5,657.5 L1122.6,661.8 L1126.7,666.2 L1130.5,670.5 L1134.1,674.8 L1137.5,678.9 L1140.6,682.9 L1143.4,686.6 L1145.9,690.1 L1148.0,693.2 L1149.8,696.1 L1151.2,698.5 L1152.2,700.5 L1152.8,701.9Z" fill="#35429b"/></g>
<g clip-path="url(#clipnzD)">
<g filter="url(#nzD)"><rect x="1260.5" y="522" width="360" height="360" fill="#000"/><g filter="url(#b6)"><circle cx="1440.5" cy="702" r="170" fill="#0a0a0a"/><path d="M1492.5,577.0 L1492.4,577.1 L1491.9,577.6 L1491.2,578.3 L1490.3,579.2 L1489.0,580.5 L1487.5,582.0 L1485.8,583.7 L1483.9,585.6 L1481.8,587.7 L1479.5,590.0 L1477.1,592.4 L1474.5,595.0 L1471.9,597.6 L1469.2,600.3 L1466.5,603.0 L1463.8,605.7 L1461.1,608.4 L1458.5,611.0 L1455.9,613.6 L1453.5,616.0 L1451.2,618.3 L1449.1,620.4 L1447.2,622.3 L1445.5,624.0 L1444.0,625.5 L1442.7,626.8 L1441.8,627.7 L1441.1,628.4 L1440.6,628.9 L1440.5,629.0 L1440.4,628.9 L1439.9,628.4 L1439.2,627.7 L1438.3,626.8 L1437.0,625.5 L1435.5,624.0 L1433.8,622.3 L1431.9,620.4 L1429.8,618.3 L1427.5,616.0 L1425.1,613.6 L1422.5,611.0 L1419.9,608.4 L1417.2,605.7 L1414.5,603.0 L1411.8,600.3 L1409.1,597.6 L1406.5,595.0 L1403.9,592.4 L1401.5,590.0 L1399.2,587.7 L1397.1,585.6 L1395.2,583.7 L1393.5,582.0 L1392.0,580.5 L1390.7,579.2 L1389.8,578.3 L1389.1,577.6 L1388.6,577.1 L1388.5,577.0 L1388.6,576.9 L1389.1,576.4 L1389.8,575.7 L1390.7,574.8 L1392.0,573.5 L1393.5,572.0 L1395.2,570.3 L1397.1,568.4 L1399.2,566.3 L1401.5,564.0 L1403.9,561.6 L1406.5,559.0 L1409.1,556.4 L1411.8,553.7 L1414.5,551.0 L1417.2,548.3 L1419.9,545.6 L1422.5,543.0 L1425.1,540.4 L1427.5,538.0 L1429.8,535.7 L1431.9,533.6 L1433.8,531.7 L1435.5,530.0 L1437.0,528.5 L1438.3,527.2 L1439.2,526.3 L1439.9,525.6 L1440.4,525.1 L1440.5,525.0 L1440.6,525.1 L1441.1,525.6 L1441.8,526.3 L1442.7,527.2 L1444.0,528.5 L1445.5,530.0 L1447.2,531.7 L1449.1,533.6 L1451.2,535.7 L1453.5,538.0 L1455.9,540.4 L1458.5,543.0 L1461.1,545.6 L1463.8,548.3 L1466.5,551.0 L1469.2,553.7 L1471.9,556.4 L1474.5,559.0 L1477.1,561.6 L1479.5,564.0 L1481.8,566.3 L1483.9,568.4 L1485.8,570.3 L1487.5,572.0 L1489.0,573.5 L1490.3,574.8 L1491.2,575.7 L1491.9,576.4 L1492.4,576.9Z" fill="#363636"/><path d="M1492.5,827.0 L1492.4,827.1 L1491.9,827.6 L1491.2,828.3 L1490.3,829.2 L1489.0,830.5 L1487.5,832.0 L1485.8,833.7 L1483.9,835.6 L1481.8,837.7 L1479.5,840.0 L1477.1,842.4 L1474.5,845.0 L1471.9,847.6 L1469.2,850.3 L1466.5,853.0 L1463.8,855.7 L1461.1,858.4 L1458.5,861.0 L1455.9,863.6 L1453.5,866.0 L1451.2,868.3 L1449.1,870.4 L1447.2,872.3 L1445.5,874.0 L1444.0,875.5 L1442.7,876.8 L1441.8,877.7 L1441.1,878.4 L1440.6,878.9 L1440.5,879.0 L1440.4,878.9 L1439.9,878.4 L1439.2,877.7 L1438.3,876.8 L1437.0,875.5 L1435.5,874.0 L1433.8,872.3 L1431.9,870.4 L1429.8,868.3 L1427.5,866.0 L1425.1,863.6 L1422.5,861.0 L1419.9,858.4 L1417.2,855.7 L1414.5,853.0 L1411.8,850.3 L1409.1,847.6 L1406.5,845.0 L1403.9,842.4 L1401.5,840.0 L1399.2,837.7 L1397.1,835.6 L1395.2,833.7 L1393.5,832.0 L1392.0,830.5 L1390.7,829.2 L1389.8,828.3 L1389.1,827.6 L1388.6,827.1 L1388.5,827.0 L1388.6,826.9 L1389.1,826.4 L1389.8,825.7 L1390.7,824.8 L1392.0,823.5 L1393.5,822.0 L1395.2,820.3 L1397.1,818.4 L1399.2,816.3 L1401.5,814.0 L1403.9,811.6 L1406.5,809.0 L1409.1,806.4 L1411.8,803.7 L1414.5,801.0 L1417.2,798.3 L1419.9,795.6 L1422.5,793.0 L1425.1,790.4 L1427.5,788.0 L1429.8,785.7 L1431.9,783.6 L1433.8,781.7 L1435.5,780.0 L1437.0,778.5 L1438.3,777.2 L1439.2,776.3 L1439.9,775.6 L1440.4,775.1 L1440.5,775.0 L1440.6,775.1 L1441.1,775.6 L1441.8,776.3 L1442.7,777.2 L1444.0,778.5 L1445.5,780.0 L1447.2,781.7 L1449.1,783.6 L1451.2,785.7 L1453.5,788.0 L1455.9,790.4 L1458.5,793.0 L1461.1,795.6 L1463.8,798.3 L1466.5,801.0 L1469.2,803.7 L1471.9,806.4 L1474.5,809.0 L1477.1,811.6 L1479.5,814.0 L1481.8,816.3 L1483.9,818.4 L1485.8,820.3 L1487.5,822.0 L1489.0,823.5 L1490.3,824.8 L1491.2,825.7 L1491.9,826.4 L1492.4,826.9Z" fill="#363636"/><path d="M1367.5,702.0 L1367.4,702.1 L1366.9,702.6 L1366.2,703.3 L1365.3,704.2 L1364.0,705.5 L1362.5,707.0 L1360.8,708.7 L1358.9,710.6 L1356.8,712.7 L1354.5,715.0 L1352.1,717.4 L1349.5,720.0 L1346.9,722.6 L1344.2,725.3 L1341.5,728.0 L1338.8,730.7 L1336.1,733.4 L1333.5,736.0 L1330.9,738.6 L1328.5,741.0 L1326.2,743.3 L1324.1,745.4 L1322.2,747.3 L1320.5,749.0 L1319.0,750.5 L1317.7,751.8 L1316.8,752.7 L1316.1,753.4 L1315.6,753.9 L1315.5,754.0 L1315.4,753.9 L1314.9,753.4 L1314.2,752.7 L1313.3,751.8 L1312.0,750.5 L1310.5,749.0 L1308.8,747.3 L1306.9,745.4 L1304.8,743.3 L1302.5,741.0 L1300.1,738.6 L1297.5,736.0 L1294.9,733.4 L1292.2,730.7 L1289.5,728.0 L1286.8,725.3 L1284.1,722.6 L1281.5,720.0 L1278.9,717.4 L1276.5,715.0 L1274.2,712.7 L1272.1,710.6 L1270.2,708.7 L1268.5,707.0 L1267.0,705.5 L1265.7,704.2 L1264.8,703.3 L1264.1,702.6 L1263.6,702.1 L1263.5,702.0 L1263.6,701.9 L1264.1,701.4 L1264.8,700.7 L1265.7,699.8 L1267.0,698.5 L1268.5,697.0 L1270.2,695.3 L1272.1,693.4 L1274.2,691.3 L1276.5,689.0 L1278.9,686.6 L1281.5,684.0 L1284.1,681.4 L1286.8,678.7 L1289.5,676.0 L1292.2,673.3 L1294.9,670.6 L1297.5,668.0 L1300.1,665.4 L1302.5,663.0 L1304.8,660.7 L1306.9,658.6 L1308.8,656.7 L1310.5,655.0 L1312.0,653.5 L1313.3,652.2 L1314.2,651.3 L1314.9,650.6 L1315.4,650.1 L1315.5,650.0 L1315.6,650.1 L1316.1,650.6 L1316.8,651.3 L1317.7,652.2 L1319.0,653.5 L1320.5,655.0 L1322.2,656.7 L1324.1,658.6 L1326.2,660.7 L1328.5,663.0 L1330.9,665.4 L1333.5,668.0 L1336.1,670.6 L1338.8,673.3 L1341.5,676.0 L1344.2,678.7 L1346.9,681.4 L1349.5,684.0 L1352.1,686.6 L1354.5,689.0 L1356.8,691.3 L1358.9,693.4 L1360.8,695.3 L1362.5,697.0 L1364.0,698.5 L1365.3,699.8 L1366.2,700.7 L1366.9,701.4 L1367.4,701.9Z" fill="#363636"/><path d="M1617.5,702.0 L1617.4,702.1 L1616.9,702.6 L1616.2,703.3 L1615.3,704.2 L1614.0,705.5 L1612.5,707.0 L1610.8,708.7 L1608.9,710.6 L1606.8,712.7 L1604.5,715.0 L1602.1,717.4 L1599.5,720.0 L1596.9,722.6 L1594.2,725.3 L1591.5,728.0 L1588.8,730.7 L1586.1,733.4 L1583.5,736.0 L1580.9,738.6 L1578.5,741.0 L1576.2,743.3 L1574.1,745.4 L1572.2,747.3 L1570.5,749.0 L1569.0,750.5 L1567.7,751.8 L1566.8,752.7 L1566.1,753.4 L1565.6,753.9 L1565.5,754.0 L1565.4,753.9 L1564.9,753.4 L1564.2,752.7 L1563.3,751.8 L1562.0,750.5 L1560.5,749.0 L1558.8,747.3 L1556.9,745.4 L1554.8,743.3 L1552.5,741.0 L1550.1,738.6 L1547.5,736.0 L1544.9,733.4 L1542.2,730.7 L1539.5,728.0 L1536.8,725.3 L1534.1,722.6 L1531.5,720.0 L1528.9,717.4 L1526.5,715.0 L1524.2,712.7 L1522.1,710.6 L1520.2,708.7 L1518.5,707.0 L1517.0,705.5 L1515.7,704.2 L1514.8,703.3 L1514.1,702.6 L1513.6,702.1 L1513.5,702.0 L1513.6,701.9 L1514.1,701.4 L1514.8,700.7 L1515.7,699.8 L1517.0,698.5 L1518.5,697.0 L1520.2,695.3 L1522.1,693.4 L1524.2,691.3 L1526.5,689.0 L1528.9,686.6 L1531.5,684.0 L1534.1,681.4 L1536.8,678.7 L1539.5,676.0 L1542.2,673.3 L1544.9,670.6 L1547.5,668.0 L1550.1,665.4 L1552.5,663.0 L1554.8,660.7 L1556.9,658.6 L1558.8,656.7 L1560.5,655.0 L1562.0,653.5 L1563.3,652.2 L1564.2,651.3 L1564.9,650.6 L1565.4,650.1 L1565.5,650.0 L1565.6,650.1 L1566.1,650.6 L1566.8,651.3 L1567.7,652.2 L1569.0,653.5 L1570.5,655.0 L1572.2,656.7 L1574.1,658.6 L1576.2,660.7 L1578.5,663.0 L1580.9,665.4 L1583.5,668.0 L1586.1,670.6 L1588.8,673.3 L1591.5,676.0 L1594.2,678.7 L1596.9,681.4 L1599.5,684.0 L1602.1,686.6 L1604.5,689.0 L1606.8,691.3 L1608.9,693.4 L1610.8,695.3 L1612.5,697.0 L1614.0,698.5 L1615.3,699.8 L1616.2,700.7 L1616.9,701.4 L1617.4,701.9Z" fill="#363636"/><path d="M1528.5,702.0 L1528.4,714.3 L1528.2,721.5 L1527.8,727.5 L1527.2,732.9 L1526.5,737.7 L1525.6,742.2 L1524.6,746.4 L1523.4,750.3 L1522.0,754.0 L1520.5,757.4 L1518.8,760.7 L1516.9,763.7 L1514.9,766.6 L1512.7,769.3 L1510.3,771.8 L1507.8,774.2 L1505.1,776.4 L1502.2,778.4 L1499.2,780.3 L1495.9,782.0 L1492.5,783.5 L1488.8,784.9 L1484.9,786.1 L1480.7,787.1 L1476.2,788.0 L1471.4,788.7 L1466.0,789.3 L1460.0,789.7 L1452.8,789.9 L1440.5,790.0 L1428.2,789.9 L1421.0,789.7 L1415.0,789.3 L1409.6,788.7 L1404.8,788.0 L1400.3,787.1 L1396.1,786.1 L1392.2,784.9 L1388.5,783.5 L1385.1,782.0 L1381.8,780.3 L1378.8,778.4 L1375.9,776.4 L1373.2,774.2 L1370.7,771.8 L1368.3,769.3 L1366.1,766.6 L1364.1,763.7 L1362.2,760.7 L1360.5,757.4 L1359.0,754.0 L1357.6,750.3 L1356.4,746.4 L1355.4,742.2 L1354.5,737.7 L1353.8,732.9 L1353.2,727.5 L1352.8,721.5 L1352.6,714.3 L1352.5,702.0 L1352.6,689.7 L1352.8,682.5 L1353.2,676.5 L1353.8,671.1 L1354.5,666.3 L1355.4,661.8 L1356.4,657.6 L1357.6,653.7 L1359.0,650.0 L1360.5,646.6 L1362.2,643.3 L1364.1,640.3 L1366.1,637.4 L1368.3,634.7 L1370.7,632.2 L1373.2,629.8 L1375.9,627.6 L1378.8,625.6 L1381.8,623.7 L1385.1,622.0 L1388.5,620.5 L1392.2,619.1 L1396.1,617.9 L1400.3,616.9 L1404.8,616.0 L1409.6,615.3 L1415.0,614.7 L1421.0,614.3 L1428.2,614.1 L1440.5,614.0 L1452.8,614.1 L1460.0,614.3 L1466.0,614.7 L1471.4,615.3 L1476.2,616.0 L1480.7,616.9 L1484.9,617.9 L1488.8,619.1 L1492.5,620.5 L1495.9,622.0 L1499.2,623.7 L1502.2,625.6 L1505.1,627.6 L1507.8,629.8 L1510.3,632.2 L1512.7,634.7 L1514.9,637.4 L1516.9,640.3 L1518.8,643.3 L1520.5,646.6 L1522.0,650.0 L1523.4,653.7 L1524.6,657.6 L1525.6,661.8 L1526.5,666.3 L1527.2,671.1 L1527.8,676.5 L1528.2,682.5 L1528.4,689.7Z" fill="#4f4f4f"/></g></g>
</g>
<circle cx="1440.5" cy="702" r="174" fill="none" stroke="#fff" stroke-width="0"/>
<g filter="url(#b1)"><path d="M1498.3,702.0 L1498.2,702.2 L1497.7,702.9 L1497.0,703.9 L1496.0,705.2 L1494.7,706.7 L1493.2,708.6 L1491.4,710.6 L1489.4,712.9 L1487.2,715.4 L1484.8,718.0 L1482.2,720.8 L1479.5,723.6 L1476.7,726.5 L1473.9,729.5 L1470.9,732.4 L1468.0,735.4 L1465.0,738.2 L1462.1,741.0 L1459.3,743.7 L1456.5,746.3 L1453.9,748.7 L1451.4,750.9 L1449.1,752.9 L1447.1,754.7 L1445.2,756.2 L1443.7,757.5 L1442.4,758.5 L1441.4,759.2 L1440.7,759.7 L1440.5,759.8 L1440.3,759.7 L1439.6,759.2 L1438.6,758.5 L1437.3,757.5 L1435.8,756.2 L1433.9,754.7 L1431.9,752.9 L1429.6,750.9 L1427.1,748.7 L1424.5,746.3 L1421.7,743.7 L1418.9,741.0 L1416.0,738.2 L1413.0,735.4 L1410.1,732.4 L1407.1,729.5 L1404.3,726.5 L1401.5,723.6 L1398.8,720.8 L1396.2,718.0 L1393.8,715.4 L1391.6,712.9 L1389.6,710.6 L1387.8,708.6 L1386.3,706.7 L1385.0,705.2 L1384.0,703.9 L1383.3,702.9 L1382.8,702.2 L1382.7,702.0 L1382.8,701.8 L1383.3,701.1 L1384.0,700.1 L1385.0,698.8 L1386.3,697.3 L1387.8,695.4 L1389.6,693.4 L1391.6,691.1 L1393.8,688.6 L1396.2,686.0 L1398.8,683.2 L1401.5,680.4 L1404.3,677.5 L1407.1,674.5 L1410.1,671.6 L1413.0,668.6 L1416.0,665.8 L1418.9,663.0 L1421.7,660.3 L1424.5,657.7 L1427.1,655.3 L1429.6,653.1 L1431.9,651.1 L1433.9,649.3 L1435.8,647.8 L1437.3,646.5 L1438.6,645.5 L1439.6,644.8 L1440.3,644.3 L1440.5,644.2 L1440.7,644.3 L1441.4,644.8 L1442.4,645.5 L1443.7,646.5 L1445.2,647.8 L1447.1,649.3 L1449.1,651.1 L1451.4,653.1 L1453.9,655.3 L1456.5,657.7 L1459.3,660.3 L1462.1,663.0 L1465.0,665.8 L1468.0,668.6 L1470.9,671.6 L1473.9,674.5 L1476.7,677.5 L1479.5,680.4 L1482.2,683.2 L1484.8,686.0 L1487.2,688.6 L1489.4,691.1 L1491.4,693.4 L1493.2,695.4 L1494.7,697.3 L1496.0,698.8 L1497.0,700.1 L1497.7,701.1 L1498.2,701.8Z" fill="#5aa860"/><path d="M1496.5,702.0 L1496.4,702.2 L1495.9,702.9 L1495.2,703.8 L1494.3,705.1 L1493.0,706.6 L1491.5,708.4 L1489.8,710.4 L1487.9,712.6 L1485.7,715.0 L1483.4,717.5 L1480.9,720.2 L1478.3,722.9 L1475.6,725.8 L1472.8,728.6 L1470.0,731.5 L1467.1,734.3 L1464.3,737.1 L1461.4,739.8 L1458.7,742.4 L1456.0,744.9 L1453.5,747.2 L1451.1,749.4 L1448.9,751.3 L1446.9,753.0 L1445.1,754.5 L1443.6,755.8 L1442.3,756.7 L1441.4,757.4 L1440.7,757.9 L1440.5,758.0 L1440.3,757.9 L1439.6,757.4 L1438.7,756.7 L1437.4,755.8 L1435.9,754.5 L1434.1,753.0 L1432.1,751.3 L1429.9,749.4 L1427.5,747.2 L1425.0,744.9 L1422.3,742.4 L1419.6,739.8 L1416.7,737.1 L1413.9,734.3 L1411.0,731.5 L1408.2,728.6 L1405.4,725.8 L1402.7,722.9 L1400.1,720.2 L1397.6,717.5 L1395.3,715.0 L1393.1,712.6 L1391.2,710.4 L1389.5,708.4 L1388.0,706.6 L1386.7,705.1 L1385.8,703.8 L1385.1,702.9 L1384.6,702.2 L1384.5,702.0 L1384.6,701.8 L1385.1,701.1 L1385.8,700.2 L1386.7,698.9 L1388.0,697.4 L1389.5,695.6 L1391.2,693.6 L1393.1,691.4 L1395.3,689.0 L1397.6,686.5 L1400.1,683.8 L1402.7,681.1 L1405.4,678.2 L1408.2,675.4 L1411.0,672.5 L1413.9,669.7 L1416.7,666.9 L1419.6,664.2 L1422.3,661.6 L1425.0,659.1 L1427.5,656.8 L1429.9,654.6 L1432.1,652.7 L1434.1,651.0 L1435.9,649.5 L1437.4,648.2 L1438.7,647.3 L1439.6,646.6 L1440.3,646.1 L1440.5,646.0 L1440.7,646.1 L1441.4,646.6 L1442.3,647.3 L1443.6,648.2 L1445.1,649.5 L1446.9,651.0 L1448.9,652.7 L1451.1,654.6 L1453.5,656.8 L1456.0,659.1 L1458.7,661.6 L1461.4,664.2 L1464.3,666.9 L1467.1,669.7 L1470.0,672.5 L1472.8,675.4 L1475.6,678.2 L1478.3,681.1 L1480.9,683.8 L1483.4,686.5 L1485.7,689.0 L1487.9,691.4 L1489.8,693.6 L1491.5,695.6 L1493.0,697.4 L1494.3,698.9 L1495.2,700.2 L1495.9,701.1 L1496.4,701.8Z" fill="#35429b"/></g>
<g fill="none" stroke="#86a8d6" stroke-linejoin="miter"><path d="M113.5,231 L113.5,126.8 L220,126.8" stroke-width="4.2"/><path d="M207.5,119.5 L221.5,126.8 L207.5,134.5" stroke-width="2.8" stroke="#7d9fd0"/><path d="M105.5,219.5 L113.5,233 L121.5,219.5" stroke-width="2.8" stroke="#7d9fd0"/><path d="M113.5,231 L113.5,126.8 L220,126.8" stroke-width="1.6" stroke="#6f95cb"/></g>
<g font-family="Liberation Serif, serif" font-size="54" fill="#1c1a1b" stroke="#1c1a1b" stroke-width="0.5">
<text transform="translate(15.0,55) scale(1.032,1)" >(a)</text>
<text transform="translate(102.0,104.3) scale(1.032,1)" >[010]</text>
<text transform="translate(270.0,104.3) scale(1.032,1)" >0 ps</text>
<text transform="translate(624.0,104.3) scale(1.032,1)" >0.5 ps</text>
<text transform="translate(999.3,104.3) scale(1.032,1)" >1.5 ps</text>
<text transform="translate(1371.8,104.3) scale(1.032,1)" >2.0 ps</text>
<text transform="translate(248.0,947.2) scale(1.032,1)" >4.0 ps</text>
<text transform="translate(623.0,947.2) scale(1.032,1)" >6.0 ps</text>
<text transform="translate(999.0,947.2) scale(1.032,1)" >8.0 ps</text>
<text transform="translate(1359.0,947.2) scale(1.032,1)" >10.0 ps</text>
<text transform="translate(80,237.0) rotate(-90) scale(1.032,1)">[100]</text>
<text transform="translate(1667.0,126.8) scale(1.032,1)" >Velocity/</text>
<text transform="translate(1674.0,191.5) scale(1.032,1)" >(km·s<tspan font-size="33" dy="-22">−1</tspan><tspan dy="22">)</tspan></text>
<text transform="translate(1731.0,252) scale(1.032,1)" >0.6</text>
<text transform="translate(1731.0,518) scale(1.032,1)" >0</text>
<text transform="translate(1955.0,55.3) scale(1.032,1)" >(b)</text>
<text transform="translate(2797.0,251.3) scale(1.032,1)" >Temperature/K</text>
<text transform="translate(2930.0,333.6) scale(1.032,1)" >1</text>
<text transform="translate(2930.0,392.70000000000005) scale(1.032,1)" >40</text>
<text transform="translate(2930.0,451.8) scale(1.032,1)" >80</text>
<text transform="translate(2930.0,510.90000000000003) scale(1.032,1)" >120</text>
<text transform="translate(2930.0,570.0) scale(1.032,1)" >160</text>
<text transform="translate(2930.0,629.1) scale(1.032,1)" >200</text>
<text transform="translate(2930.0,688.2) scale(1.032,1)" >240</text>
<text transform="translate(2930.0,747.3) scale(1.032,1)" >280</text>
<text transform="translate(2930.0,806.4000000000001) scale(1.032,1)" >320</text>
</g>
<rect x="1680" y="237" width="33" height="269" fill="url(#cbv)"/>
<rect x="2882" y="319.0" width="31" height="53.1" fill="#2f45a0"/>
<rect x="2882" y="371.6" width="31" height="53.1" fill="#3c6dbe"/>
<rect x="2882" y="424.2" width="31" height="53.1" fill="#62c6cf"/>
<rect x="2882" y="476.8" width="31" height="53.1" fill="#5fbf70"/>
<rect x="2882" y="529.4" width="31" height="53.1" fill="#5ab432"/>
<rect x="2882" y="582.0" width="31" height="53.1" fill="#e0e030"/>
<rect x="2882" y="634.6" width="31" height="53.1" fill="#ee7d22"/>
<rect x="2882" y="687.2" width="31" height="53.1" fill="#de2428"/>
<rect x="2882" y="739.8" width="31" height="53.1" fill="#8c1c24"/>
<rect x="2882" y="319" width="31" height="473.5" fill="none" stroke="#221e1f" stroke-width="3"/>
<line x1="2881" x2="2916" y1="378.2" y2="378.2" stroke="#221e1f" stroke-width="2.5"/>
<line x1="2881" x2="2916" y1="437.4" y2="437.4" stroke="#221e1f" stroke-width="2.5"/>
<line x1="2881" x2="2916" y1="496.6" y2="496.6" stroke="#221e1f" stroke-width="2.5"/>
<line x1="2881" x2="2916" y1="555.8" y2="555.8" stroke="#221e1f" stroke-width="2.5"/>
<line x1="2881" x2="2916" y1="615.0" y2="615.0" stroke="#221e1f" stroke-width="2.5"/>
<line x1="2881" x2="2916" y1="674.2" y2="674.2" stroke="#221e1f" stroke-width="2.5"/>
<line x1="2881" x2="2916" y1="733.4" y2="733.4" stroke="#221e1f" stroke-width="2.5"/>
<rect x="2196" y="142" width="560" height="3.2" fill="#dadada"/><rect x="2011" y="152" width="2.6" height="300" fill="#ececec"/>
<g clip-path="url(#clipbox)"><g clip-path="url(#clipb)">
<g filter="url(#rag)"><rect x="1990" y="120" width="790" height="790" fill="#3f71c1"/><path d="M2000,330 L2045,330 L2042,500 L2048,700 L2000,700Z" fill="#2f4aa2"/>
<path d="M2770,330 L2730,330 L2728,514 L2722,700 L2770,700Z" fill="#2f4aa2"/>
<path d="M2229.6,152.6 C2242.6,142.5 2288.2,116.2 2300.0,137.5 C2311.7,158.9 2302.3,258.0 2300.0,280.5 C2297.6,303.1 2290.9,276.8 2286.0,273.0 C2281.2,269.3 2274.7,263.0 2271.0,258.0 C2267.2,252.9 2268.5,243.5 2263.5,242.9 C2258.4,242.3 2247.1,254.2 2240.9,254.2 C2234.6,254.2 2230.8,247.9 2225.8,242.9 C2220.8,237.9 2211.4,231.6 2210.8,224.1 C2210.1,216.6 2218.9,209.7 2222.1,197.7 C2225.2,185.8 2216.6,162.6 2229.6,152.6Z" fill="#2f4aa2"/>
<path d="M2022.6,370.9 C2031.4,367.7 2042.0,377.1 2052.7,374.6 C2063.4,372.1 2074.6,359.6 2086.6,355.8 C2098.5,352.1 2112.3,349.5 2124.2,352.1 C2136.1,354.6 2147.4,365.2 2158.1,370.9 C2168.7,376.5 2181.9,380.9 2188.2,385.9 C2194.5,390.9 2197.6,396.0 2195.7,401.0 C2193.8,406.0 2183.2,411.0 2176.9,416.0 C2170.6,421.1 2187.6,428.6 2158.1,431.1 C2128.6,433.6 2026.3,437.4 2000.0,431.1 C1973.7,424.8 1996.2,403.5 2000.0,393.5 C2003.8,383.4 2013.8,374.0 2022.6,370.9Z" fill="#2f4aa2"/>
<path d="M2250.0,137.5 C2300.0,131.9 2500.0,131.3 2550.0,137.5 C2600.0,143.8 2551.7,167.0 2550.0,175.2 C2548.3,183.3 2545.9,189.0 2539.8,186.5 C2533.7,183.9 2524.1,165.8 2513.5,160.1 C2502.8,154.5 2494.6,151.6 2475.8,152.6 C2457.0,153.5 2416.9,163.2 2400.5,165.8 C2384.2,168.3 2390.5,169.2 2378.0,167.6 C2365.4,166.1 2340.3,157.6 2325.3,156.3 C2310.2,155.1 2300.2,157.6 2287.6,160.1 C2275.1,162.6 2256.3,175.2 2250.0,171.4 C2243.7,167.6 2200.0,143.2 2250.0,137.5Z" fill="#2f4aa2"/>
<path d="M2250.0,160.1 C2271.3,145.1 2356.6,151.3 2378.0,152.6 C2399.3,153.8 2381.1,162.0 2378.0,167.6 C2374.8,173.3 2362.3,180.2 2359.1,186.5 C2356.0,192.7 2358.5,199.0 2359.1,205.3 C2359.8,211.5 2364.2,217.8 2362.9,224.1 C2361.7,230.4 2354.8,237.3 2351.6,242.9 C2348.5,248.6 2344.1,251.7 2344.1,258.0 C2344.1,264.2 2347.2,274.3 2351.6,280.5 C2356.0,286.8 2369.8,290.6 2370.4,295.6 C2371.1,300.6 2362.9,306.9 2355.4,310.7 C2347.9,314.4 2335.3,316.9 2325.3,318.2 C2315.2,319.4 2303.9,320.1 2295.2,318.2 C2286.4,316.3 2277.6,311.9 2272.6,306.9 C2267.6,301.9 2264.4,293.7 2265.1,288.1 C2265.7,282.4 2277.0,278.7 2276.3,273.0 C2275.7,267.4 2265.7,259.2 2261.3,254.2 C2256.9,249.2 2251.9,258.6 2250.0,242.9 C2248.1,227.2 2228.7,175.2 2250.0,160.1Z" fill="#2f4aa2"/>
<path d="M2396.8,152.6 C2422.3,151.3 2526.1,154.5 2550.0,160.1 C2573.8,165.8 2542.7,175.8 2539.8,186.5 C2536.9,197.1 2534.8,212.8 2532.3,224.1 C2529.8,235.4 2525.4,246.0 2524.7,254.2 C2524.1,262.4 2530.4,267.4 2528.5,273.0 C2526.6,278.7 2519.7,282.4 2513.5,288.1 C2507.2,293.7 2499.7,302.5 2490.9,306.9 C2482.1,311.3 2469.5,314.4 2460.8,314.4 C2452.0,314.4 2444.5,311.3 2438.2,306.9 C2431.9,302.5 2427.5,295.6 2423.1,288.1 C2418.7,280.5 2413.1,269.3 2411.8,261.7 C2410.6,254.2 2412.5,249.2 2415.6,242.9 C2418.7,236.6 2430.0,229.7 2430.7,224.1 C2431.3,218.4 2424.4,215.3 2419.4,209.0 C2414.3,202.8 2404.3,193.4 2400.5,186.5 C2396.8,179.6 2397.4,173.3 2396.8,167.6 C2396.2,162.0 2371.3,153.8 2396.8,152.6Z" fill="#2f4aa2"/>
<path d="M2470.0,137.5 C2482.5,120.0 2530.8,160.1 2545.3,167.6 C2559.7,175.2 2557.8,176.4 2556.6,182.7 C2555.3,189.0 2542.1,197.7 2537.7,205.3 C2533.4,212.8 2533.4,221.6 2530.2,227.9 C2527.1,234.1 2519.6,237.3 2518.9,242.9 C2518.3,248.6 2528.3,255.5 2526.5,261.7 C2524.6,268.0 2513.3,276.2 2507.6,280.5 C2502.0,284.9 2498.9,289.3 2492.6,288.1 C2486.3,286.8 2473.8,298.1 2470.0,273.0 C2466.2,247.9 2457.5,155.1 2470.0,137.5Z" fill="#2f4aa2"/>
<path d="M2541.5,227.9 C2546.5,226.6 2561.6,238.5 2567.9,242.9 C2574.1,247.3 2580.4,251.7 2579.1,254.2 C2577.9,256.7 2567.2,258.6 2560.3,258.0 C2553.4,257.3 2540.9,255.5 2537.7,250.4 C2534.6,245.4 2536.5,229.1 2541.5,227.9Z" fill="#2f4aa2"/>
<path d="M2635.6,363.3 C2641.9,359.6 2650.7,359.6 2658.2,355.8 C2665.7,352.1 2674.5,344.5 2680.8,340.8 C2687.0,337.0 2690.2,333.2 2695.8,333.2 C2701.5,333.2 2709.0,335.7 2714.6,340.8 C2720.3,345.8 2723.7,352.1 2729.7,363.3 C2735.7,374.6 2743.5,397.4 2750.4,408.5 C2757.3,419.6 2767.6,419.9 2771.1,430.0 C2774.5,440.0 2796.2,462.3 2771.1,468.7 C2746.0,475.2 2645.6,475.2 2620.5,468.7 C2595.5,462.3 2619.3,441.3 2620.5,430.0 C2621.8,418.7 2628.1,409.6 2628.1,401.0 C2628.1,392.4 2619.3,384.7 2620.5,378.4 C2621.8,372.1 2629.3,367.1 2635.6,363.3Z" fill="#2f4aa2"/>
<path d="M2000.0,352.5 C2006.9,326.8 2032.0,356.2 2041.4,360.0 C2050.8,363.8 2050.8,373.8 2056.5,375.1 C2062.1,376.3 2069.0,368.2 2075.3,367.5 C2081.5,366.9 2087.8,368.8 2094.1,371.3 C2100.4,373.8 2104.8,381.3 2112.9,382.6 C2121.1,383.8 2133.6,378.2 2143.0,378.8 C2152.4,379.4 2161.2,382.6 2169.4,386.3 C2177.5,390.1 2187.6,395.1 2191.9,401.4 C2196.3,407.7 2197.6,415.8 2195.7,424.0 C2193.8,432.1 2185.7,442.5 2180.7,450.3 C2175.6,458.2 2171.9,467.3 2165.6,471.0 C2159.3,474.8 2149.9,475.7 2143.0,472.9 C2136.1,470.1 2129.8,459.4 2124.2,454.1 C2118.6,448.8 2116.7,438.4 2109.1,440.9 C2101.6,443.4 2090.0,457.5 2079.0,469.1 C2068.1,480.8 2056.5,503.0 2043.3,510.5 C2030.1,518.1 2007.2,540.7 2000.0,514.3 C1992.8,488.0 1993.1,378.2 2000.0,352.5Z" fill="#2f4aa2"/>
<path d="M2000.0,516.2 C2007.2,492.4 2030.7,514.0 2043.3,518.1 C2055.8,522.2 2066.8,535.6 2075.3,540.7 C2083.7,545.7 2085.9,547.6 2094.1,548.2 C2102.2,548.8 2114.8,543.2 2124.2,544.4 C2133.6,545.7 2141.8,550.7 2150.5,555.7 C2159.3,560.7 2170.6,568.3 2176.9,574.5 C2183.2,580.8 2186.9,586.4 2188.2,593.3 C2189.4,600.2 2188.2,610.9 2184.4,615.9 C2180.7,620.9 2171.9,622.8 2165.6,623.5 C2159.3,624.1 2148.0,617.2 2146.8,619.7 C2145.5,622.2 2157.4,631.6 2158.1,638.5 C2158.7,645.4 2176.9,657.3 2150.5,661.1 C2124.2,664.9 2025.1,685.2 2000.0,661.1 C1974.9,636.9 1992.8,540.0 2000.0,516.2Z" fill="#2f4aa2"/>
<path d="M2205.1,392.0 C2205.4,389.2 2208.9,390.4 2212.6,395.8 C2216.4,401.1 2226.1,418.7 2227.7,424.0 C2229.3,429.3 2224.9,429.6 2222.1,427.7 C2219.2,425.9 2213.6,418.7 2210.8,412.7 C2207.9,406.7 2204.8,394.8 2205.1,392.0Z" fill="#2f4aa2"/>
<path d="M2214.5,600.9 C2216.4,599.3 2222.7,602.1 2223.9,604.6 C2225.2,607.1 2223.9,614.4 2222.1,615.9 C2220.2,617.5 2213.9,616.6 2212.6,614.0 C2211.4,611.5 2212.6,602.4 2214.5,600.9Z" fill="#2f4aa2"/>
<path d="M2579.1,416.5 C2582.9,411.4 2597.3,405.8 2605.5,405.2 C2613.6,404.5 2621.2,407.7 2628.1,412.7 C2635.0,417.7 2640.6,428.4 2646.9,435.3 C2653.2,442.2 2661.3,447.8 2665.7,454.1 C2670.1,460.4 2674.5,467.9 2673.2,472.9 C2672.0,477.9 2664.5,484.2 2658.2,484.2 C2651.9,484.2 2643.1,475.4 2635.6,472.9 C2628.1,470.4 2619.9,472.3 2613.0,469.1 C2606.1,466.0 2599.2,459.7 2594.2,454.1 C2589.2,448.4 2585.4,441.5 2582.9,435.3 C2580.4,429.0 2575.4,421.5 2579.1,416.5Z" fill="#2f4aa2"/>
<path d="M2650.7,356.2 C2654.4,354.4 2670.7,368.8 2680.8,371.3 C2690.8,373.8 2702.1,373.8 2710.9,371.3 C2719.7,368.8 2722.2,358.7 2733.5,356.2 C2744.7,353.7 2771.1,329.9 2778.6,356.2 C2786.1,382.6 2787.4,488.3 2778.6,514.3 C2769.8,540.3 2739.1,517.4 2725.9,512.4 C2712.8,507.4 2708.1,492.7 2699.6,484.2 C2691.1,475.7 2678.3,469.8 2675.1,461.6 C2672.0,453.5 2681.1,444.7 2680.8,435.3 C2680.5,425.9 2677.0,413.9 2673.2,405.2 C2669.5,396.4 2661.9,390.7 2658.2,382.6 C2654.4,374.4 2646.9,358.1 2650.7,356.2Z" fill="#2f4aa2"/>
<path d="M2725.9,516.2 C2743.5,506.8 2769.8,488.9 2778.6,514.3 C2787.4,539.7 2789.9,642.9 2778.6,668.6 C2767.3,694.3 2727.2,672.4 2710.9,668.6 C2694.6,664.9 2691.4,651.1 2680.8,646.0 C2670.1,641.0 2656.9,642.3 2646.9,638.5 C2636.9,634.7 2620.5,629.7 2620.5,623.5 C2620.5,617.2 2638.1,609.7 2646.9,600.9 C2655.7,592.1 2660.1,584.9 2673.2,570.8 C2686.4,556.7 2708.4,525.6 2725.9,516.2Z" fill="#2f4aa2"/>
<path d="M2582.9,570.8 C2587.9,565.7 2594.2,559.5 2601.7,555.7 C2609.3,551.9 2619.9,548.2 2628.1,548.2 C2636.2,548.2 2643.8,555.7 2650.7,555.7 C2657.6,555.7 2665.4,545.7 2669.5,548.2 C2673.6,550.7 2678.3,563.2 2675.1,570.8 C2672.0,578.3 2658.5,585.8 2650.7,593.3 C2642.8,600.9 2634.3,609.7 2628.1,615.9 C2621.8,622.2 2618.7,629.7 2613.0,631.0 C2607.4,632.2 2600.5,627.2 2594.2,623.5 C2587.9,619.7 2579.1,614.7 2575.4,608.4 C2571.6,602.1 2570.4,592.1 2571.6,585.8 C2572.9,579.5 2577.9,575.8 2582.9,570.8Z" fill="#2f4aa2"/>
<path d="M2522.7,638.5 C2527.1,628.5 2539.0,607.1 2545.3,604.6 C2551.5,602.1 2556.6,616.6 2560.3,623.5 C2564.1,630.4 2567.9,639.1 2567.9,646.0 C2567.9,652.9 2568.5,661.7 2560.3,664.9 C2552.2,668.0 2525.2,669.2 2518.9,664.9 C2512.7,660.5 2518.3,648.5 2522.7,638.5Z" fill="#2f4aa2"/>
<path d="M2000.0,586.2 C2006.9,581.8 2035.8,585.6 2056.5,586.2 C2077.2,586.9 2109.8,586.9 2124.2,590.0 C2138.6,593.1 2137.4,598.8 2143.0,605.1 C2148.7,611.3 2152.4,621.4 2158.1,627.6 C2163.7,633.9 2175.6,637.7 2176.9,642.7 C2178.1,647.7 2170.0,653.4 2165.6,657.7 C2161.2,662.1 2154.3,664.6 2150.5,669.0 C2146.8,673.4 2148.0,681.0 2143.0,684.1 C2138.0,687.2 2128.0,689.1 2120.4,687.9 C2112.9,686.6 2105.4,680.3 2097.9,676.6 C2090.3,672.8 2081.5,670.3 2075.3,665.3 C2069.0,660.3 2065.2,652.7 2060.2,646.5 C2055.2,640.2 2050.2,630.1 2045.2,627.6 C2040.1,625.1 2035.1,633.9 2030.1,631.4 C2025.1,628.9 2020.1,620.1 2015.1,612.6 C2010.0,605.1 1993.1,590.6 2000.0,586.2Z" fill="#2f4aa2"/>
<path d="M2150.5,586.2 C2155.6,581.8 2186.9,582.5 2195.7,586.2 C2204.5,590.0 2204.5,602.5 2203.2,608.8 C2202.0,615.1 2194.5,623.2 2188.2,623.9 C2181.9,624.5 2171.9,618.9 2165.6,612.6 C2159.3,606.3 2145.5,590.6 2150.5,586.2Z" fill="#2f4aa2"/>
<path d="M2259.7,676.6 C2262.8,672.8 2272.9,669.0 2278.5,669.0 C2284.2,669.0 2291.7,672.8 2293.6,676.6 C2295.4,680.3 2293.6,687.9 2289.8,691.6 C2286.0,695.4 2276.0,699.1 2271.0,699.1 C2266.0,699.1 2261.6,695.4 2259.7,691.6 C2257.8,687.9 2256.6,680.3 2259.7,676.6Z" fill="#2f4aa2"/>
<path d="M2263.5,710.4 C2268.5,704.8 2294.8,701.7 2301.1,706.7 C2307.4,711.7 2303.6,733.6 2301.1,740.5 C2298.6,747.4 2291.1,748.1 2286.0,748.1 C2281.0,748.1 2274.7,746.8 2271.0,740.5 C2267.2,734.3 2258.4,716.1 2263.5,710.4Z" fill="#2f4aa2"/>
<path d="M2225.8,740.5 C2227.1,734.9 2237.1,731.8 2240.9,733.0 C2244.6,734.3 2244.6,741.8 2248.4,748.1 C2252.2,754.3 2259.7,763.8 2263.5,770.7 C2267.2,777.6 2273.5,788.2 2271.0,789.5 C2268.5,790.7 2254.7,781.9 2248.4,778.2 C2242.1,774.4 2237.1,773.2 2233.3,766.9 C2229.6,760.6 2224.6,746.2 2225.8,740.5Z" fill="#2f4aa2"/>
<path d="M2225.8,785.7 C2229.0,780.7 2240.9,775.7 2248.4,778.2 C2255.9,780.7 2262.2,793.2 2271.0,800.8 C2279.8,808.3 2296.1,808.3 2301.1,823.3 C2306.1,838.4 2307.4,879.8 2301.1,891.1 C2294.8,902.4 2274.7,893.6 2263.5,891.1 C2252.2,888.6 2239.6,885.4 2233.3,876.0 C2227.1,866.6 2226.4,845.9 2225.8,834.6 C2225.2,823.3 2229.6,816.4 2229.6,808.3 C2229.6,800.1 2222.7,790.7 2225.8,785.7Z" fill="#2f4aa2"/>
<path d="M2261.3,714.2 C2265.1,710.4 2272.0,703.5 2280.2,702.9 C2288.3,702.3 2301.5,706.0 2310.3,710.4 C2319.1,714.8 2327.2,722.4 2332.9,729.3 C2338.5,736.2 2341.6,743.7 2344.1,751.8 C2346.7,760.0 2348.5,770.0 2347.9,778.2 C2347.3,786.3 2340.4,794.5 2340.4,800.8 C2340.4,807.0 2349.2,814.6 2347.9,815.8 C2346.7,817.1 2339.1,813.3 2332.9,808.3 C2326.6,803.3 2317.8,794.5 2310.3,785.7 C2302.7,776.9 2295.2,763.1 2287.7,755.6 C2280.2,748.1 2270.1,745.6 2265.1,740.5 C2260.1,735.5 2258.2,729.9 2257.6,725.5 C2257.0,721.1 2257.6,718.0 2261.3,714.2Z" fill="#2f4aa2"/>
<path d="M2246.3,729.3 C2248.2,726.7 2253.2,734.3 2257.6,740.5 C2262.0,746.8 2266.4,758.1 2272.6,766.9 C2278.9,775.7 2288.9,785.1 2295.2,793.2 C2301.5,801.4 2310.9,812.1 2310.3,815.8 C2309.6,819.6 2299.0,820.8 2291.5,815.8 C2283.9,810.8 2272.6,795.7 2265.1,785.7 C2257.6,775.7 2249.4,765.0 2246.3,755.6 C2243.2,746.2 2244.4,731.8 2246.3,729.3Z" fill="#2f4aa2"/>
<path d="M2263.2,674.7 C2266.4,671.2 2279.2,669.4 2283.9,670.9 C2288.6,672.5 2292.1,680.0 2291.5,684.1 C2290.8,688.2 2284.6,694.1 2280.2,695.4 C2275.8,696.6 2267.9,695.1 2265.1,691.6 C2262.3,688.2 2260.1,678.1 2263.2,674.7Z" fill="#2f4aa2"/>
<path d="M2419.4,740.5 C2422.6,734.3 2431.3,727.4 2438.2,721.7 C2445.1,716.1 2453.3,709.8 2460.8,706.7 C2468.3,703.5 2477.1,701.7 2483.4,702.9 C2489.7,704.2 2496.6,707.9 2498.5,714.2 C2500.3,720.5 2497.2,733.0 2494.7,740.5 C2492.2,748.1 2487.8,753.1 2483.4,759.4 C2479.0,765.6 2474.0,772.5 2468.3,778.2 C2462.7,783.8 2455.8,788.8 2449.5,793.2 C2443.3,797.6 2436.4,803.3 2430.7,804.5 C2425.1,805.8 2418.8,805.2 2415.7,800.8 C2412.5,796.4 2411.3,785.1 2411.9,778.2 C2412.5,771.3 2418.2,765.6 2419.4,759.4 C2420.7,753.1 2416.3,746.8 2419.4,740.5Z" fill="#2f4aa2"/>
<path d="M2235.0,785.7 C2238.8,769.4 2248.2,793.2 2257.6,800.8 C2267.0,808.3 2278.9,822.1 2291.5,830.9 C2304.0,839.7 2321.6,848.1 2332.9,853.5 C2344.1,858.8 2350.4,861.6 2359.2,862.9 C2368.0,864.1 2376.8,863.2 2385.5,861.0 C2394.3,858.8 2401.9,856.0 2411.9,849.7 C2421.9,843.4 2435.1,831.5 2445.8,823.3 C2456.4,815.2 2467.1,808.3 2475.9,800.8 C2484.7,793.2 2490.9,785.7 2498.5,778.2 C2506.0,770.7 2514.8,760.6 2521.0,755.6 C2527.3,750.6 2533.6,724.2 2536.1,748.1 C2538.6,771.9 2586.3,873.5 2536.1,898.6 C2485.9,923.7 2285.2,917.4 2235.0,898.6 C2184.8,879.8 2231.2,802.0 2235.0,785.7Z" fill="#2f4aa2"/>
<path d="M2475.9,676.6 C2477.1,673.9 2493.4,671.5 2498.5,672.8 C2503.5,674.1 2507.2,681.5 2506.0,684.1 C2504.7,686.7 2495.9,689.9 2490.9,688.6 C2485.9,687.4 2474.6,679.2 2475.9,676.6Z" fill="#2f4aa2"/>
<path d="M2521.0,635.2 C2522.9,631.4 2533.6,624.5 2536.1,627.6 C2538.6,630.8 2538.0,650.2 2536.1,654.0 C2534.2,657.7 2527.3,653.4 2524.8,650.2 C2522.3,647.1 2519.2,638.9 2521.0,635.2Z" fill="#2f4aa2"/>
<path d="M2586.7,646.5 C2586.7,640.8 2594.8,634.5 2601.7,627.6 C2608.6,620.7 2618.7,609.4 2628.1,605.1 C2637.5,600.7 2649.4,604.4 2658.2,601.3 C2667.0,598.2 2661.9,588.7 2680.8,586.2 C2699.6,583.7 2756.0,571.2 2771.1,586.2 C2786.1,601.3 2777.4,660.9 2771.1,676.6 C2764.8,692.2 2742.2,677.8 2733.5,680.3 C2724.7,682.8 2724.7,691.6 2718.4,691.6 C2712.1,691.6 2703.3,681.6 2695.8,680.3 C2688.3,679.1 2679.5,685.3 2673.2,684.1 C2667.0,682.8 2661.9,672.2 2658.2,672.8 C2654.4,673.4 2654.4,687.2 2650.7,687.9 C2646.9,688.5 2640.6,679.7 2635.6,676.6 C2630.6,673.4 2626.2,671.5 2620.5,669.0 C2614.9,666.5 2607.4,665.3 2601.7,661.5 C2596.1,657.7 2586.7,652.1 2586.7,646.5Z" fill="#2f4aa2"/>
<path d="M2522.7,635.2 C2523.9,627.6 2531.5,617.6 2537.7,612.6 C2544.0,607.6 2554.7,603.8 2560.3,605.1 C2566.0,606.3 2570.4,613.2 2571.6,620.1 C2572.9,627.0 2566.6,638.9 2567.9,646.5 C2569.1,654.0 2581.0,660.9 2579.1,665.3 C2577.3,669.7 2564.7,674.1 2556.6,672.8 C2548.4,671.5 2535.9,664.0 2530.2,657.7 C2524.6,651.5 2521.4,642.7 2522.7,635.2Z" fill="#2f4aa2"/>
<path d="M2470.0,676.6 C2473.8,671.5 2486.3,671.5 2492.6,672.8 C2498.9,674.1 2507.0,679.7 2507.6,684.1 C2508.3,688.5 2502.6,696.0 2496.3,699.1 C2490.1,702.3 2474.4,706.7 2470.0,702.9 C2465.6,699.1 2466.2,681.6 2470.0,676.6Z" fill="#2f4aa2"/>
<path d="M2470.0,714.2 C2473.8,706.0 2488.2,716.1 2492.6,721.7 C2497.0,727.4 2498.2,740.5 2496.3,748.1 C2494.5,755.6 2485.7,763.1 2481.3,766.9 C2476.9,770.7 2471.9,779.4 2470.0,770.7 C2468.1,761.9 2466.2,722.4 2470.0,714.2Z" fill="#2f4aa2"/>
<path d="M2470.0,778.2 C2473.8,755.0 2484.4,763.8 2492.6,759.4 C2500.7,755.0 2512.0,756.2 2518.9,751.8 C2525.8,747.4 2529.6,734.9 2534.0,733.0 C2538.4,731.1 2541.5,734.9 2545.3,740.5 C2549.0,746.2 2554.1,758.1 2556.6,766.9 C2559.1,775.7 2561.0,785.7 2560.3,793.2 C2559.7,800.8 2552.2,805.8 2552.8,812.1 C2553.4,818.3 2561.0,824.6 2564.1,830.9 C2567.2,837.1 2569.7,839.7 2571.6,849.7 C2573.5,859.7 2592.3,882.9 2575.4,891.1 C2558.4,899.2 2487.6,917.4 2470.0,898.6 C2452.4,879.8 2466.2,801.4 2470.0,778.2Z" fill="#2f4aa2"/>
<path d="M2040.0,330.0 C2064.2,302.3 2186.6,180.8 2215.0,160.0 C2243.4,139.2 2213.0,195.0 2210.6,205.0 C2208.2,215.0 2203.8,215.3 2200.5,220.0 C2197.2,224.7 2191.3,228.3 2190.5,233.0 C2189.7,237.7 2191.3,242.7 2195.5,248.0 C2199.7,253.3 2209.3,259.2 2215.6,265.0 C2221.8,270.8 2227.9,277.2 2233.0,283.0 C2238.1,288.8 2242.7,293.0 2246.0,300.0 C2249.3,307.0 2251.3,317.5 2253.0,325.0 C2254.7,332.5 2256.2,338.8 2256.0,345.0 C2255.8,351.2 2254.5,358.5 2252.0,362.0 C2249.5,365.5 2245.8,365.8 2241.0,366.0 C2236.2,366.2 2228.0,361.3 2223.0,363.0 C2218.0,364.7 2214.8,371.8 2211.0,376.0 C2207.2,380.2 2203.5,388.0 2200.0,388.0 C2196.5,388.0 2194.5,380.5 2190.0,376.0 C2185.5,371.5 2178.8,366.0 2173.0,361.0 C2167.2,356.0 2161.3,351.2 2155.0,346.0 C2148.7,340.8 2140.3,333.8 2135.0,330.0 C2129.7,326.2 2128.0,324.7 2123.0,323.0 C2118.0,321.3 2111.3,320.0 2105.0,320.0 C2098.7,320.0 2090.8,322.0 2085.0,323.0 C2079.2,324.0 2077.5,324.8 2070.0,326.0 C2062.5,327.2 2015.8,357.7 2040.0,330.0Z" fill="#5fc5d0"/>
<path d="M2556.0,165.0 C2586.0,187.0 2713.7,299.2 2740.0,326.0 C2766.3,352.8 2721.3,327.3 2714.0,326.0 C2706.7,324.7 2702.8,320.0 2696.0,318.0 C2689.2,316.0 2680.5,313.3 2673.0,314.0 C2665.5,314.7 2657.2,317.5 2651.0,322.0 C2644.8,326.5 2641.2,335.3 2636.0,341.0 C2630.8,346.7 2624.5,351.0 2620.0,356.0 C2615.5,361.0 2613.3,367.8 2609.0,371.0 C2604.7,374.2 2600.2,373.7 2594.0,375.0 C2587.8,376.3 2577.8,376.5 2572.0,379.0 C2566.2,381.5 2562.7,386.3 2559.0,390.0 C2555.3,393.7 2552.8,397.3 2550.0,401.0 C2547.2,404.7 2545.2,409.2 2542.0,412.0 C2538.8,414.8 2533.8,420.0 2531.0,418.0 C2528.2,416.0 2526.3,405.5 2525.0,400.0 C2523.7,394.5 2522.0,390.3 2523.0,385.0 C2524.0,379.7 2531.0,373.7 2531.0,368.0 C2531.0,362.3 2526.7,358.3 2523.0,351.0 C2519.3,343.7 2510.0,330.3 2509.0,324.0 C2508.0,317.7 2513.3,317.7 2517.0,313.0 C2520.7,308.3 2527.7,301.5 2531.0,296.0 C2534.3,290.5 2534.7,285.0 2537.0,280.0 C2539.3,275.0 2541.0,269.3 2545.0,266.0 C2549.0,262.7 2555.5,263.2 2561.0,260.0 C2566.5,256.8 2574.3,251.7 2578.0,247.0 C2581.7,242.3 2584.0,237.7 2583.0,232.0 C2582.0,226.3 2575.8,219.3 2572.0,213.0 C2568.2,206.7 2562.7,202.0 2560.0,194.0 C2557.3,186.0 2526.0,143.0 2556.0,165.0Z" fill="#5fc5d0"/>
<path d="M2030.0,695.0 C2029.3,684.8 2046.8,697.3 2056.0,699.0 C2065.2,700.7 2076.0,702.8 2085.0,705.0 C2094.0,707.2 2103.0,713.3 2110.0,712.0 C2117.0,710.7 2121.0,701.3 2127.0,697.0 C2133.0,692.7 2139.7,690.2 2146.0,686.0 C2152.3,681.8 2158.2,676.2 2165.0,672.0 C2171.8,667.8 2180.5,664.2 2187.0,661.0 C2193.5,657.8 2199.3,653.0 2204.0,653.0 C2208.7,653.0 2210.8,659.2 2215.0,661.0 C2219.2,662.8 2224.8,663.5 2229.0,664.0 C2233.2,664.5 2236.8,661.3 2240.0,664.0 C2243.2,666.7 2245.8,675.0 2248.0,680.0 C2250.2,685.0 2254.0,689.3 2253.0,694.0 C2252.0,698.7 2246.0,704.3 2242.0,708.0 C2238.0,711.7 2232.7,712.3 2229.0,716.0 C2225.3,719.7 2223.3,725.8 2220.0,730.0 C2216.7,734.2 2212.7,736.3 2209.0,741.0 C2205.3,745.7 2201.7,752.5 2198.0,758.0 C2194.3,763.5 2190.0,768.7 2187.0,774.0 C2184.0,779.3 2179.8,784.8 2180.0,790.0 C2180.2,795.2 2184.2,799.5 2188.0,805.0 C2191.8,810.5 2199.0,813.0 2203.0,823.0 C2207.0,833.0 2220.8,860.5 2212.0,865.0 C2203.2,869.5 2175.3,867.5 2150.0,850.0 C2124.7,832.5 2080.0,785.8 2060.0,760.0 C2040.0,734.2 2030.7,705.2 2030.0,695.0Z" fill="#5fc5d0"/>
<path d="M2520.0,680.0 C2520.5,677.3 2529.0,677.5 2534.0,678.0 C2539.0,678.5 2545.0,682.7 2550.0,683.0 C2555.0,683.3 2559.3,680.8 2564.0,680.0 C2568.7,679.2 2573.8,677.0 2578.0,678.0 C2582.2,679.0 2584.3,683.8 2589.0,686.0 C2593.7,688.2 2600.5,689.2 2606.0,691.0 C2611.5,692.8 2616.5,695.5 2622.0,697.0 C2627.5,698.5 2634.8,701.0 2639.0,700.0 C2643.2,699.0 2643.5,691.0 2647.0,691.0 C2650.5,691.0 2652.8,699.0 2660.0,700.0 C2667.2,701.0 2681.5,697.8 2690.0,697.0 C2698.5,696.2 2701.8,694.5 2711.0,695.0 C2720.2,695.5 2746.8,682.5 2745.0,700.0 C2743.2,717.5 2724.2,770.0 2700.0,800.0 C2675.8,830.0 2621.3,871.7 2600.0,880.0 C2578.7,888.3 2576.0,860.0 2572.0,850.0 C2568.0,840.0 2575.0,830.0 2576.0,820.0 C2577.0,810.0 2578.7,797.7 2578.0,790.0 C2577.3,782.3 2573.8,779.3 2572.0,774.0 C2570.2,768.7 2569.2,763.5 2567.0,758.0 C2564.8,752.5 2561.8,746.5 2559.0,741.0 C2556.2,735.5 2552.8,730.5 2550.0,725.0 C2547.2,719.5 2545.2,713.2 2542.0,708.0 C2538.8,702.8 2534.7,698.7 2531.0,694.0 C2527.3,689.3 2519.5,682.7 2520.0,680.0Z" fill="#5fc5d0"/>
<path d="M2268.0,514.0 C2255.1,520.0 2265.7,511.3 2262.7,505.7 C2259.7,500.1 2253.3,487.3 2250.0,480.6 C2246.7,473.9 2242.7,469.7 2242.7,465.5 C2242.7,461.3 2246.3,457.2 2250.0,455.5 C2253.7,453.8 2263.7,458.0 2265.0,455.5 C2266.3,453.0 2260.2,444.6 2257.7,440.4 C2255.2,436.2 2251.7,433.8 2250.0,430.4 C2248.3,427.0 2246.4,422.5 2247.7,420.0 C2249.0,417.5 2254.0,415.7 2257.7,415.3 C2261.4,414.9 2266.7,415.3 2270.0,417.8 C2273.3,420.3 2275.3,426.6 2277.8,430.4 C2280.3,434.2 2281.7,437.5 2285.0,440.4 C2288.3,443.3 2294.5,448.4 2297.9,448.0 C2301.3,447.6 2305.0,441.8 2305.4,438.0 C2305.8,434.2 2303.0,429.6 2300.4,425.4 C2297.8,421.2 2292.9,416.6 2290.0,412.8 C2287.1,409.0 2282.3,405.8 2282.8,402.8 C2283.3,399.8 2289.9,398.8 2292.8,395.0 C2295.7,391.2 2297.5,382.9 2300.4,380.0 C2303.3,377.1 2307.5,376.4 2310.4,377.7 C2313.3,379.0 2314.7,385.2 2318.0,387.7 C2321.3,390.2 2326.8,394.0 2330.5,392.7 C2334.2,391.4 2340.5,383.8 2340.5,380.0 C2340.5,376.2 2333.8,372.9 2330.5,370.0 C2327.2,367.1 2323.8,365.1 2320.5,362.6 C2317.2,360.1 2299.7,348.8 2310.4,355.0 C2321.2,361.2 2380.1,380.8 2385.0,400.0 C2389.9,419.2 2359.5,451.0 2340.0,470.0 C2320.5,489.0 2280.9,508.1 2268.0,514.0Z" fill="#5fc5d0"/>
<path d="M2385.0,400.0 C2391.7,380.7 2452.5,364.0 2470.0,354.0 C2487.5,344.0 2481.7,344.0 2490.0,340.0 C2498.3,336.0 2508.3,330.0 2520.0,330.0 C2531.7,330.0 2551.3,331.7 2560.0,340.0 C2568.7,348.3 2571.7,366.7 2572.0,380.0 C2572.3,393.3 2565.3,411.3 2562.0,420.0 C2558.7,428.7 2562.2,416.2 2552.0,432.0 C2541.8,447.8 2520.8,508.7 2500.5,515.0 C2480.2,521.3 2449.2,489.2 2430.0,470.0 C2410.8,450.8 2378.3,419.3 2385.0,400.0Z" fill="#5fc5d0"/>
<path d="M2268.0,515.0 C2252.6,515.0 2250.7,550.0 2247.7,560.0 C2244.7,570.0 2248.3,571.2 2250.0,575.0 C2251.7,578.8 2256.9,579.4 2257.7,582.8 C2258.5,586.2 2253.8,592.5 2255.0,595.4 C2256.2,598.3 2261.7,600.4 2265.0,600.4 C2268.3,600.4 2272.0,594.6 2275.0,595.4 C2278.0,596.2 2280.7,601.6 2282.8,605.4 C2284.9,609.2 2285.7,614.6 2287.8,618.0 C2289.9,621.4 2293.7,621.8 2295.4,625.5 C2297.1,629.2 2295.8,638.0 2297.9,640.5 C2300.0,643.0 2304.7,639.7 2308.0,640.5 C2311.3,641.3 2314.2,643.8 2318.0,645.5 C2321.8,647.2 2326.8,648.9 2330.5,650.6 C2334.2,652.3 2331.5,659.2 2340.5,655.6 C2349.5,652.0 2384.5,644.9 2384.4,629.0 C2384.3,613.1 2359.4,579.0 2340.0,560.0 C2320.6,541.0 2283.4,515.0 2268.0,515.0Z" fill="#5fc5d0"/>
<path d="M2500.5,514.0 C2514.8,512.3 2522.2,549.4 2525.6,560.0 C2528.9,570.6 2523.1,573.6 2520.6,577.8 C2518.1,582.0 2513.8,584.9 2510.5,585.3 C2507.2,585.7 2504.7,580.7 2500.5,580.3 C2496.3,579.9 2490.4,581.5 2485.4,582.8 C2480.4,584.0 2473.3,584.0 2470.4,587.8 C2467.5,591.6 2467.1,599.9 2467.9,605.4 C2468.7,610.9 2475.0,616.3 2475.4,620.5 C2475.8,624.7 2472.9,629.7 2470.4,630.5 C2467.9,631.3 2462.8,624.7 2460.3,625.5 C2457.8,626.3 2457.8,633.0 2455.3,635.5 C2452.8,638.0 2448.7,638.4 2445.3,640.5 C2442.0,642.6 2438.5,646.8 2435.2,648.0 C2431.8,649.2 2433.6,651.2 2425.2,648.0 C2416.8,644.8 2382.5,642.0 2385.0,629.0 C2387.5,616.0 2420.8,589.2 2440.0,570.0 C2459.2,550.8 2486.2,515.7 2500.5,514.0Z" fill="#5fc5d0"/>
<path d="M2300.0,700.0 C2294.9,697.6 2305.8,689.8 2310.0,685.7 C2314.2,681.7 2320.4,678.2 2325.5,675.7 C2330.6,673.2 2335.5,671.1 2340.5,670.6 C2345.5,670.1 2353.9,670.5 2355.6,673.0 C2357.3,675.5 2353.1,681.2 2350.6,685.7 C2348.1,690.2 2348.9,697.6 2340.5,700.0 C2332.1,702.4 2305.1,702.4 2300.0,700.0Z" fill="#5fc5d0"/>
<path d="M2550.0,273.0 C2544.3,275.5 2539.6,281.8 2536.0,288.1 C2532.5,294.3 2532.3,304.4 2528.5,310.7 C2524.7,316.9 2519.1,320.7 2513.5,325.7 C2507.8,330.7 2499.7,335.7 2494.6,340.8 C2489.6,345.8 2484.0,350.8 2483.3,355.8 C2482.7,360.8 2490.9,364.6 2490.9,370.9 C2490.9,377.1 2485.9,388.4 2483.3,393.5 C2480.8,398.5 2474.6,397.2 2475.8,401.0 C2477.1,404.7 2484.6,411.0 2490.9,416.0 C2497.1,421.1 2500.3,428.6 2513.5,431.1 C2526.6,433.6 2560.5,457.4 2569.9,431.1 C2579.3,404.7 2573.2,299.4 2569.9,273.0 C2566.6,246.7 2555.6,270.5 2550.0,273.0Z" fill="#5fc5d0"/>
<path d="M2287.6,389.7 C2296.4,386.6 2315.2,390.3 2325.3,393.5 C2335.3,396.6 2341.6,404.1 2347.9,408.5 C2354.1,412.9 2362.3,416.0 2362.9,419.8 C2363.5,423.6 2365.4,429.2 2351.6,431.1 C2337.8,433.0 2293.3,434.2 2280.1,431.1 C2266.9,428.0 2271.3,419.2 2272.6,412.3 C2273.8,405.4 2278.9,392.8 2287.6,389.7Z" fill="#5fc5d0"/>
<path d="M2248.4,427.7 C2252.8,424.0 2264.7,422.7 2271.0,424.0 C2277.3,425.2 2281.0,434.6 2286.0,435.3 C2291.1,435.9 2298.6,419.6 2301.1,427.7 C2303.6,435.9 2303.6,476.7 2301.1,484.2 C2298.6,491.7 2289.8,472.3 2286.0,472.9 C2282.3,473.5 2282.3,488.0 2278.5,488.0 C2274.7,488.0 2267.2,478.6 2263.5,472.9 C2259.7,467.3 2259.1,458.5 2255.9,454.1 C2252.8,449.7 2245.9,451.0 2244.6,446.6 C2243.4,442.2 2244.0,431.5 2248.4,427.7Z" fill="#5fc5d0"/>
<path d="M2203.2,356.2 C2208.3,353.1 2235.2,353.1 2240.9,356.2 C2246.5,359.4 2242.1,371.9 2237.1,375.1 C2232.1,378.2 2216.4,378.2 2210.8,375.1 C2205.1,371.9 2198.2,359.4 2203.2,356.2Z" fill="#5fc5d0"/>
<path d="M2470.0,356.2 C2490.7,339.9 2575.4,352.5 2594.2,356.2 C2613.0,360.0 2586.0,371.9 2582.9,378.8 C2579.8,385.7 2575.4,391.4 2575.4,397.6 C2575.4,403.9 2585.4,411.4 2582.9,416.5 C2580.4,421.5 2566.6,427.1 2560.3,427.7 C2554.1,428.4 2550.3,419.0 2545.3,420.2 C2540.3,421.5 2535.2,434.0 2530.2,435.3 C2525.2,436.5 2518.9,425.9 2515.2,427.7 C2511.4,429.6 2511.4,445.3 2507.6,446.6 C2503.9,447.8 2497.0,433.4 2492.6,435.3 C2488.2,437.2 2485.1,454.7 2481.3,457.9 C2477.5,461.0 2471.9,471.0 2470.0,454.1 C2468.1,437.2 2449.3,372.5 2470.0,356.2Z" fill="#5fc5d0"/>
<path d="M2257.6,586.2 C2270.8,581.8 2314.0,581.8 2329.1,586.2 C2344.1,590.6 2342.9,605.1 2347.9,612.6 C2352.9,620.1 2360.5,625.8 2359.2,631.4 C2357.9,637.0 2347.3,645.2 2340.4,646.5 C2333.5,647.7 2324.7,638.3 2317.8,638.9 C2310.9,639.6 2304.6,650.8 2299.0,650.2 C2293.3,649.6 2289.6,638.9 2283.9,635.2 C2278.3,631.4 2270.8,631.4 2265.1,627.6 C2259.5,623.9 2251.3,619.5 2250.1,612.6 C2248.8,605.7 2244.4,590.6 2257.6,586.2Z" fill="#5fc5d0"/>
<path d="M2235.0,657.7 C2237.5,647.7 2245.0,647.1 2250.1,642.7 C2255.1,638.3 2263.9,629.5 2265.1,631.4 C2266.4,633.3 2260.7,645.2 2257.6,654.0 C2254.4,662.8 2250.1,675.9 2246.3,684.1 C2242.5,692.2 2236.9,707.3 2235.0,702.9 C2233.1,698.5 2232.5,667.8 2235.0,657.7Z" fill="#5fc5d0"/>
<path d="M2415.7,612.6 C2415.7,607.6 2430.7,602.5 2438.2,601.3 C2445.8,600.0 2454.5,600.7 2460.8,605.1 C2467.1,609.4 2475.9,622.0 2475.9,627.6 C2475.9,633.3 2467.1,638.3 2460.8,638.9 C2454.5,639.6 2445.8,635.8 2438.2,631.4 C2430.7,627.0 2415.7,617.6 2415.7,612.6Z" fill="#5fc5d0"/>
<line x1="2226" y1="269" x2="2260" y2="237" stroke="#5fc5d0" stroke-width="3" stroke-linecap="round"/>
<line x1="2196" y1="228" x2="2216" y2="209" stroke="#3f71c1" stroke-width="4" stroke-linecap="round"/>
<line x1="2306" y1="243" x2="2355" y2="220" stroke="#3f71c1" stroke-width="4" stroke-linecap="round"/>
<line x1="2320" y1="262" x2="2350" y2="246" stroke="#3f71c1" stroke-width="3" stroke-linecap="round"/>
<line x1="2427" y1="228" x2="2461" y2="254" stroke="#3f71c1" stroke-width="4" stroke-linecap="round"/>
<line x1="2440" y1="215" x2="2480" y2="247" stroke="#3f71c1" stroke-width="3" stroke-linecap="round"/>
<line x1="2594" y1="601" x2="2632" y2="571" stroke="#3f71c1" stroke-width="4" stroke-linecap="round"/>
<line x1="2585" y1="585" x2="2615" y2="560" stroke="#3f71c1" stroke-width="3" stroke-linecap="round"/>
<line x1="2650" y1="330" x2="2690" y2="372" stroke="#3f71c1" stroke-width="3" stroke-linecap="round"/>
<line x1="2060" y1="600" x2="2100" y2="640" stroke="#3f71c1" stroke-width="3.5" stroke-linecap="round"/>
<line x1="2085" y1="420" x2="2125" y2="380" stroke="#3f71c1" stroke-width="3.5" stroke-linecap="round"/>
<line x1="2290" y1="780" x2="2325" y2="810" stroke="#3f71c1" stroke-width="4" stroke-linecap="round"/>
<line x1="2440" y1="800" x2="2480" y2="770" stroke="#3f71c1" stroke-width="4" stroke-linecap="round"/>
<line x1="2640" y1="640" x2="2680" y2="600" stroke="#3f71c1" stroke-width="3.5" stroke-linecap="round"/>
</g>
<g filter="url(#b1)">
<path d="M2387.4,295.6 L2411.8,310.7 L2438.2,333.2 L2460.8,355.8 L2483.3,345.3 L2453.2,367.1 L2419.4,389.7 L2384.7,400.2 L2351.6,385.9 L2317.7,363.3 L2298.9,349.4 L2321.5,348.3 L2344.1,329.5 L2366.7,310.7Z" fill="#5fc5d0"/>
<path d="M2161.8,514.3 L2195.7,480.4 L2222.1,452.2 L2221.3,431.5 L2248.4,472.9 L2269.1,514.3 L2248.4,555.7 L2223.9,599.0 L2222.1,580.2 L2188.2,544.4Z" fill="#5fc5d0"/>
<path d="M2500.1,514.3 L2522.7,472.9 L2549.8,430.8 L2564.1,457.9 L2582.9,488.0 L2601.7,514.3 L2582.9,540.7 L2564.1,570.8 L2549.8,599.0 L2522.7,555.7Z" fill="#5fc5d0"/>
<path d="M2384.8,627.6 L2347.9,650.2 L2300.9,679.6 L2325.3,699.1 L2351.7,721.7 L2379.9,742.4 L2404.4,721.7 L2434.5,699.1 L2470.2,677.3 L2426.9,652.1Z" fill="#5fc5d0"/>
<line x1="2385" y1="400" x2="2297" y2="349" stroke="#63bd98" stroke-width="3" stroke-linecap="round"/>
<line x1="2385" y1="400" x2="2485" y2="345" stroke="#63bd98" stroke-width="3" stroke-linecap="round"/>
<line x1="2268" y1="514.5" x2="2220" y2="429" stroke="#63bd98" stroke-width="3" stroke-linecap="round"/>
<line x1="2268" y1="514.5" x2="2222" y2="602" stroke="#63bd98" stroke-width="3" stroke-linecap="round"/>
<line x1="2500.5" y1="514.5" x2="2551" y2="428" stroke="#63bd98" stroke-width="3" stroke-linecap="round"/>
<line x1="2500.5" y1="514.5" x2="2551" y2="602" stroke="#63bd98" stroke-width="3" stroke-linecap="round"/>
<line x1="2385" y1="628.5" x2="2299" y2="681" stroke="#63bd98" stroke-width="3" stroke-linecap="round"/>
<line x1="2385" y1="628.5" x2="2472" y2="679" stroke="#63bd98" stroke-width="3" stroke-linecap="round"/>
</g>
<g filter="url(#rag)"><rect x="1990" y="120" width="790" height="790" fill="none"/>
<path d="M2437.8,372.7 C2444.1,367.1 2463.7,355.5 2470.4,353.8 C2477.1,352.1 2475.1,359.1 2478.0,362.6 C2480.9,366.1 2484.2,372.1 2488.0,375.0 C2491.8,377.9 2496.8,377.9 2500.5,380.0 C2504.2,382.1 2506.3,385.2 2510.5,387.7 C2514.7,390.2 2521.4,392.1 2525.6,395.0 C2529.8,397.9 2532.7,401.2 2535.6,405.0 C2538.5,408.8 2540.5,413.6 2543.0,417.8 C2545.5,422.0 2550.7,427.5 2550.7,430.4 C2550.7,433.3 2545.9,433.7 2543.0,435.4 C2540.1,437.1 2535.9,437.9 2533.0,440.4 C2530.1,442.9 2528.5,448.0 2525.6,450.5 C2522.7,453.0 2518.0,457.2 2515.5,455.5 C2513.0,453.8 2513.0,444.6 2510.5,440.4 C2508.0,436.2 2504.7,431.2 2500.5,430.4 C2496.3,429.6 2490.4,433.7 2485.4,435.4 C2480.4,437.1 2474.6,441.2 2470.4,440.4 C2466.2,439.6 2461.1,434.6 2460.3,430.4 C2459.5,426.2 2462.9,419.5 2465.4,415.3 C2467.9,411.1 2474.6,409.1 2475.4,405.3 C2476.2,401.5 2473.3,395.6 2470.4,392.7 C2467.5,389.8 2462.0,387.7 2457.8,387.7 C2453.6,387.7 2449.5,392.7 2445.3,392.7 C2441.1,392.7 2433.9,391.0 2432.7,387.7 C2431.4,384.4 2431.5,378.3 2437.8,372.7Z" fill="#3f71c1"/>
<path d="M2495.5,345.0 C2498.0,341.2 2505.5,337.5 2510.5,337.5 C2515.5,337.5 2522.7,341.6 2525.6,345.0 C2528.5,348.4 2529.3,353.4 2528.0,357.6 C2526.7,361.8 2522.2,367.9 2518.0,370.0 C2513.8,372.1 2506.8,371.7 2503.0,370.0 C2499.2,368.3 2496.8,364.2 2495.5,360.0 C2494.2,355.8 2493.0,348.8 2495.5,345.0Z" fill="#3f71c1"/>
<path d="M2545.7,392.7 C2546.5,388.5 2556.3,382.5 2560.7,380.0 C2565.1,377.5 2570.1,372.2 2572.0,377.7 C2573.9,383.2 2574.7,408.2 2572.0,412.8 C2569.3,417.4 2560.1,408.7 2555.7,405.3 C2551.3,401.9 2544.9,396.9 2545.7,392.7Z" fill="#3f71c1"/>
<path d="M2498.4,348.3 C2503.4,344.5 2522.9,341.4 2528.5,344.5 C2534.2,347.7 2534.8,362.1 2532.3,367.1 C2529.8,372.1 2519.1,374.6 2513.5,374.6 C2507.8,374.6 2500.9,371.5 2498.4,367.1 C2495.9,362.7 2493.4,352.1 2498.4,348.3Z" fill="#3f71c1"/>
<path d="M2500.1,370.9 C2503.2,365.9 2517.0,359.0 2522.7,359.6 C2528.3,360.2 2534.6,369.0 2534.0,374.6 C2533.4,380.3 2523.9,390.9 2518.9,393.5 C2513.9,396.0 2507.0,393.5 2503.9,389.7 C2500.7,385.9 2497.0,375.9 2500.1,370.9Z" fill="#3f71c1"/>
<path d="M2205.0,393.0 C2205.4,389.7 2211.7,394.3 2215.0,398.0 C2218.3,401.7 2223.7,410.5 2225.0,415.0 C2226.3,419.5 2224.7,424.5 2222.6,425.0 C2220.5,425.5 2215.4,423.3 2212.5,418.0 C2209.6,412.7 2204.6,396.3 2205.0,393.0Z" fill="#2f4aa2"/>
<path d="M2520.6,640.5 C2521.4,636.3 2527.3,630.5 2530.6,625.5 C2533.9,620.5 2537.2,614.1 2540.6,610.4 C2543.9,606.6 2547.3,603.0 2550.7,603.0 C2554.0,603.0 2558.6,606.6 2560.7,610.4 C2562.8,614.1 2563.8,620.5 2563.0,625.5 C2562.2,630.5 2559.4,636.3 2555.7,640.5 C2552.0,644.7 2545.6,648.9 2540.6,650.6 C2535.6,652.3 2528.9,652.3 2525.6,650.6 C2522.3,648.9 2519.8,644.7 2520.6,640.5Z" fill="#2f4aa2"/>
<path d="M2475.4,675.7 C2476.2,672.8 2481.2,671.1 2485.4,670.6 C2489.6,670.1 2497.2,670.9 2500.5,673.0 C2503.8,675.1 2506.3,680.0 2505.5,683.0 C2504.7,686.0 2499.7,689.9 2495.5,690.7 C2491.3,691.5 2483.8,690.5 2480.4,688.0 C2477.1,685.5 2474.6,678.6 2475.4,675.7Z" fill="#2f4aa2"/>
<path d="M2257.7,685.7 C2258.5,682.8 2265.4,678.2 2270.0,675.7 C2274.6,673.2 2282.0,670.2 2285.3,670.6 C2288.6,671.0 2290.9,675.1 2290.0,678.0 C2289.1,680.9 2284.2,685.5 2280.0,688.0 C2275.8,690.5 2268.7,693.4 2265.0,693.0 C2261.3,692.6 2256.9,688.6 2257.7,685.7Z" fill="#2f4aa2"/>
<path d="M2065.0,300.0 C2079.5,279.5 2161.2,199.2 2180.0,185.0 C2198.8,170.8 2178.0,207.0 2178.0,215.0 C2178.0,223.0 2178.0,227.2 2180.0,233.0 C2182.0,238.8 2185.3,244.7 2190.0,250.0 C2194.7,255.3 2202.5,259.2 2208.0,265.0 C2213.5,270.8 2218.3,278.7 2223.0,285.0 C2227.7,291.3 2232.7,297.1 2236.0,303.0 C2239.3,308.9 2243.0,314.2 2243.0,320.5 C2243.0,326.8 2239.7,336.3 2236.0,340.5 C2232.3,344.7 2226.5,346.0 2220.6,345.6 C2214.7,345.2 2207.3,340.5 2200.5,338.0 C2193.7,335.5 2185.9,332.6 2180.0,330.5 C2174.1,328.4 2170.3,328.4 2165.0,325.5 C2159.7,322.6 2153.8,315.9 2148.0,313.0 C2142.2,310.1 2136.3,309.3 2130.0,308.0 C2123.7,306.7 2116.2,305.0 2110.0,305.0 C2103.8,305.0 2100.5,308.8 2093.0,308.0 C2085.5,307.2 2050.5,320.5 2065.0,300.0Z" fill="#66c283"/>
<path d="M2605.6,241.0 C2605.4,252.3 2593.6,252.1 2589.0,257.6 C2584.4,263.1 2582.2,268.5 2578.0,274.0 C2573.8,279.5 2568.6,285.1 2564.0,290.7 C2559.4,296.2 2554.1,301.8 2550.4,307.3 C2546.7,312.8 2542.5,319.2 2542.0,323.8 C2541.5,328.4 2544.4,332.2 2547.6,335.0 C2550.8,337.8 2556.3,339.5 2561.4,340.4 C2566.5,341.3 2572.5,339.5 2578.0,340.4 C2583.5,341.3 2589.1,346.0 2594.6,346.0 C2600.1,346.0 2605.5,343.6 2611.0,340.4 C2616.5,337.2 2622.2,330.7 2627.7,326.6 C2633.2,322.5 2638.6,318.8 2644.0,315.6 C2649.4,312.4 2650.7,309.9 2660.0,307.3 C2669.3,304.7 2690.0,302.9 2700.0,300.0 C2710.0,297.1 2738.3,308.3 2720.0,290.0 C2701.7,271.7 2609.1,198.2 2590.0,190.0 C2570.9,181.8 2605.8,229.7 2605.6,241.0Z" fill="#66c283"/>
<path d="M2050.0,712.0 C2045.8,696.7 2067.0,708.8 2075.0,708.0 C2083.0,707.2 2090.3,706.3 2098.0,707.0 C2105.7,707.7 2114.4,712.8 2121.0,712.0 C2127.6,711.2 2130.3,706.4 2137.6,702.5 C2144.9,698.6 2156.8,691.5 2165.0,688.7 C2173.2,686.0 2180.5,687.9 2187.0,686.0 C2193.5,684.1 2200.1,677.1 2203.8,677.6 C2207.5,678.1 2208.9,683.6 2209.4,688.7 C2209.9,693.8 2204.8,703.0 2206.6,708.0 C2208.4,713.0 2219.0,714.4 2220.4,719.0 C2221.8,723.6 2218.2,731.0 2215.0,735.6 C2211.8,740.2 2205.2,742.0 2201.0,746.6 C2196.8,751.2 2194.2,757.5 2190.0,763.0 C2185.8,768.5 2180.1,776.0 2176.0,779.8 C2171.9,783.6 2165.4,782.5 2165.6,786.0 C2165.8,789.5 2173.9,796.0 2177.0,801.0 C2180.1,806.0 2184.3,808.7 2184.0,816.0 C2183.7,823.3 2189.0,847.7 2175.0,845.0 C2161.0,842.3 2120.8,822.2 2100.0,800.0 C2079.2,777.8 2054.2,727.3 2050.0,712.0Z" fill="#66c283"/>
<path d="M2564.0,694.0 C2566.8,690.3 2577.5,690.4 2583.5,691.4 C2589.5,692.4 2593.6,697.4 2600.0,699.7 C2606.4,702.0 2614.7,703.6 2622.0,705.0 C2629.3,706.4 2637.7,706.6 2644.0,708.0 C2650.3,709.4 2655.3,709.8 2660.0,713.5 C2664.7,717.2 2667.0,723.1 2672.0,730.0 C2677.0,736.9 2692.0,740.0 2690.0,755.0 C2688.0,770.0 2676.0,805.8 2660.0,820.0 C2644.0,834.2 2604.3,841.7 2594.0,840.0 C2583.7,838.3 2596.2,818.3 2598.0,810.0 C2599.8,801.7 2605.6,795.0 2605.0,790.0 C2604.4,785.0 2597.8,784.3 2594.6,779.8 C2591.4,775.3 2588.8,768.5 2586.0,763.0 C2583.2,757.5 2580.2,752.1 2578.0,746.6 C2575.8,741.1 2574.3,735.5 2572.5,730.0 C2570.7,724.5 2568.4,719.5 2567.0,713.5 C2565.6,707.5 2561.2,697.7 2564.0,694.0Z" fill="#66c283"/>
<path d="M2269.6,514.3 C2267.7,513.1 2272.8,492.4 2276.4,484.2 C2280.0,476.0 2286.4,467.3 2291.5,465.4 C2296.5,463.5 2307.1,468.5 2306.5,472.9 C2305.9,477.3 2293.8,484.8 2287.7,491.7 C2281.5,498.6 2271.5,515.6 2269.6,514.3Z" fill="#66c283"/>
<path d="M2269.6,514.3 C2268.4,515.6 2276.5,532.5 2280.2,540.7 C2283.8,548.8 2287.1,560.7 2291.5,563.2 C2295.8,565.7 2307.1,560.7 2306.5,555.7 C2305.9,550.7 2293.8,540.0 2287.7,533.1 C2281.5,526.2 2270.9,513.1 2269.6,514.3Z" fill="#66c283"/>
<path d="M2384.8,400.6 C2383.5,398.8 2364.1,405.7 2355.4,408.9 C2346.8,412.2 2335.4,415.8 2332.9,420.2 C2330.3,424.6 2335.4,435.3 2340.4,435.3 C2345.4,435.3 2355.6,426.0 2363.0,420.2 C2370.4,414.4 2386.0,402.5 2384.8,400.6Z" fill="#66c283"/>
<path d="M2384.8,400.6 C2386.0,398.8 2403.6,405.0 2411.9,408.9 C2420.2,412.8 2432.0,419.6 2434.5,424.0 C2437.0,428.4 2432.0,435.9 2426.9,435.3 C2421.9,434.6 2411.4,426.0 2404.4,420.2 C2397.3,414.4 2383.5,402.5 2384.8,400.6Z" fill="#66c283"/>
<path d="M2500.3,515.1 C2502.2,513.8 2498.1,495.6 2494.7,488.0 C2491.2,480.3 2484.0,470.4 2479.6,469.1 C2475.2,467.9 2467.7,476.0 2468.3,480.4 C2469.0,484.8 2478.1,489.7 2483.4,495.5 C2488.7,501.3 2498.5,516.3 2500.3,515.1Z" fill="#66c283"/>
<path d="M2500.3,515.1 C2502.2,516.3 2498.1,532.6 2494.7,540.7 C2491.2,548.7 2484.0,561.4 2479.6,563.2 C2475.2,565.1 2467.7,557.0 2468.3,551.9 C2469.0,546.9 2478.1,539.3 2483.4,533.1 C2488.7,527.0 2498.5,513.8 2500.3,515.1Z" fill="#66c283"/>
<path d="M2384.8,628.0 C2383.5,629.9 2363.5,623.6 2355.4,619.7 C2347.4,615.8 2338.5,609.0 2336.6,604.6 C2334.7,600.2 2339.8,592.7 2344.1,593.3 C2348.5,594.0 2356.2,602.6 2363.0,608.4 C2369.7,614.2 2386.0,626.1 2384.8,628.0Z" fill="#66c283"/>
<path d="M2384.8,628.0 C2386.0,629.9 2403.6,623.6 2411.9,619.7 C2420.2,615.8 2432.0,609.0 2434.5,604.6 C2437.0,600.2 2432.0,592.7 2426.9,593.3 C2421.9,594.0 2411.4,602.6 2404.4,608.4 C2397.3,614.2 2383.5,626.1 2384.8,628.0Z" fill="#66c283"/>
<path d="M2105.0,240.0 C2112.5,230.5 2130.8,215.0 2140.0,215.0 C2149.2,215.0 2155.8,233.3 2160.0,240.0 C2164.2,246.7 2161.7,250.8 2165.0,255.0 C2168.3,259.2 2175.3,260.8 2180.0,265.0 C2184.7,269.2 2187.8,274.5 2193.0,280.0 C2198.2,285.5 2206.3,292.2 2211.0,298.0 C2215.7,303.8 2221.0,309.7 2221.0,315.0 C2221.0,320.3 2215.2,328.2 2211.0,330.0 C2206.8,331.8 2201.0,327.9 2195.5,325.5 C2190.0,323.1 2183.9,318.1 2178.0,315.5 C2172.1,312.9 2166.3,312.9 2160.0,310.0 C2153.7,307.1 2145.8,302.5 2140.0,298.0 C2134.2,293.5 2130.0,287.2 2125.0,283.0 C2120.0,278.8 2115.0,274.8 2110.0,273.0 C2105.0,271.2 2095.8,277.5 2095.0,272.0 C2094.2,266.5 2097.5,249.5 2105.0,240.0Z" fill="#55b63a"/>
<path d="M2611.0,246.6 C2606.8,256.7 2599.2,255.3 2594.6,260.4 C2590.0,265.5 2586.3,271.1 2583.5,277.0 C2580.7,282.9 2578.0,289.2 2578.0,296.0 C2578.0,302.8 2580.7,312.9 2583.5,318.0 C2586.3,323.1 2590.0,326.1 2594.6,326.6 C2599.2,327.1 2605.5,322.4 2611.0,321.0 C2616.5,319.6 2622.2,320.3 2627.7,318.0 C2633.2,315.7 2638.6,310.7 2644.0,307.0 C2649.4,303.3 2652.3,298.8 2660.0,296.0 C2667.7,293.2 2683.3,294.3 2690.0,290.0 C2696.7,285.7 2711.7,285.0 2700.0,270.0 C2688.3,255.0 2634.8,203.9 2620.0,200.0 C2605.2,196.1 2615.2,236.5 2611.0,246.6Z" fill="#55b63a"/>
<path d="M2080.0,735.0 C2080.0,724.7 2092.2,730.2 2100.0,728.0 C2107.8,725.8 2118.9,725.8 2126.6,722.0 C2134.3,718.2 2138.2,708.7 2146.0,705.0 C2153.8,701.3 2165.7,700.6 2173.5,699.7 C2181.3,698.8 2188.2,697.4 2192.8,699.7 C2197.4,702.0 2199.6,708.5 2201.0,713.5 C2202.4,718.5 2202.8,724.5 2201.0,730.0 C2199.2,735.5 2193.7,741.1 2190.0,746.6 C2186.3,752.1 2183.2,757.5 2179.0,763.0 C2174.8,768.5 2169.5,775.0 2165.0,779.8 C2160.5,784.6 2154.5,784.5 2152.0,792.0 C2149.5,799.5 2158.7,825.3 2150.0,825.0 C2141.3,824.7 2111.7,805.0 2100.0,790.0 C2088.3,775.0 2080.0,745.3 2080.0,735.0Z" fill="#55b63a"/>
<path d="M2578.0,705.0 C2581.7,702.8 2589.1,702.0 2594.6,702.5 C2600.1,703.0 2604.6,706.2 2611.0,708.0 C2617.4,709.8 2624.8,710.7 2633.0,713.5 C2641.2,716.3 2651.3,716.9 2660.0,724.6 C2668.7,732.4 2690.8,743.3 2685.0,760.0 C2679.2,776.7 2633.7,820.0 2625.0,825.0 C2616.3,830.0 2634.4,797.5 2633.0,790.0 C2631.6,782.5 2622.1,783.3 2616.6,779.8 C2611.1,776.2 2604.6,772.8 2600.0,768.7 C2595.4,764.6 2592.7,760.5 2589.0,755.0 C2585.3,749.5 2580.8,742.1 2578.0,735.6 C2575.2,729.1 2572.5,721.1 2572.5,716.0 C2572.5,710.9 2574.3,707.2 2578.0,705.0Z" fill="#55b63a"/>
<path d="M2605.5,216.6 C2615.5,222.8 2672.0,269.9 2680.8,280.5 C2689.5,291.2 2668.2,286.8 2658.2,280.5 C2648.1,274.3 2629.3,253.6 2620.5,242.9 C2611.8,232.2 2595.5,210.3 2605.5,216.6Z" fill="#55b63a"/>
<path d="M2135.3,265.3 C2138.2,261.5 2149.6,266.1 2155.4,267.8 C2161.2,269.5 2166.2,272.4 2170.4,275.3 C2174.6,278.2 2179.2,280.4 2180.5,285.4 C2181.8,290.4 2180.1,301.2 2178.0,305.4 C2175.9,309.6 2171.8,310.9 2168.0,310.5 C2164.2,310.1 2159.6,304.7 2155.4,303.0 C2151.2,301.3 2145.7,302.5 2142.8,300.4 C2139.9,298.3 2139.1,296.2 2137.8,290.4 C2136.6,284.5 2132.4,269.1 2135.3,265.3Z" fill="#e9e436"/>
<path d="M2589.0,288.0 C2589.7,282.9 2593.6,276.0 2597.3,271.4 C2601.0,266.8 2606.9,261.3 2611.0,260.4 C2615.1,259.5 2618.3,263.2 2622.0,266.0 C2625.7,268.8 2630.4,272.4 2633.0,277.0 C2635.6,281.6 2637.8,288.4 2637.4,293.5 C2637.0,298.6 2634.0,304.3 2630.5,307.3 C2627.0,310.3 2621.2,310.7 2616.6,311.4 C2612.0,312.1 2606.8,313.0 2602.9,311.4 C2599.0,309.8 2595.3,305.7 2593.0,301.8 C2590.7,297.9 2588.3,293.1 2589.0,288.0Z" fill="#e9e436"/>
<path d="M2130.7,746.6 C2131.8,741.5 2136.5,732.3 2140.4,727.3 C2144.3,722.2 2148.9,718.3 2154.0,716.3 C2159.1,714.2 2166.3,713.2 2170.7,715.0 C2175.1,716.8 2178.6,723.0 2180.4,727.3 C2182.2,731.6 2183.0,736.4 2181.8,741.0 C2180.7,745.6 2177.2,750.8 2173.5,755.0 C2169.8,759.2 2164.8,764.7 2159.7,766.0 C2154.6,767.3 2147.4,764.4 2143.0,763.0 C2138.6,761.6 2135.6,760.4 2133.5,757.7 C2131.4,755.0 2129.5,751.7 2130.7,746.6Z" fill="#e9e436"/>
<path d="M2582.0,721.8 C2583.8,719.7 2592.5,720.4 2597.3,720.4 C2602.1,720.4 2606.4,720.4 2611.0,721.8 C2615.6,723.2 2621.3,725.5 2625.0,728.7 C2628.7,731.9 2630.7,736.6 2633.0,741.0 C2635.3,745.4 2636.4,750.4 2638.7,755.0 C2641.0,759.6 2644.2,765.0 2647.0,768.7 C2649.8,772.4 2654.4,775.0 2655.3,777.0 C2656.2,779.0 2654.8,781.5 2652.5,781.0 C2650.2,780.5 2645.2,776.7 2641.5,774.2 C2637.8,771.7 2634.7,768.3 2630.5,766.0 C2626.3,763.7 2621.2,762.7 2616.6,760.4 C2612.0,758.1 2607.0,755.2 2602.9,752.0 C2598.8,748.8 2594.6,744.2 2591.8,741.0 C2589.0,737.8 2587.9,736.0 2586.3,732.8 C2584.7,729.6 2580.2,723.9 2582.0,721.8Z" fill="#e9e436"/>
<path d="M2112.2,253.4 C2112.8,252.5 2115.8,253.1 2116.7,254.2 C2117.6,255.3 2118.1,258.9 2117.4,259.8 C2116.8,260.8 2113.8,260.9 2112.9,259.8 C2112.0,258.8 2111.5,254.4 2112.2,253.4Z" fill="#e9e436"/>
<path d="M2650.7,252.3 C2651.6,251.4 2656.6,252.6 2658.2,254.2 C2659.8,255.8 2661.0,260.8 2660.1,261.7 C2659.1,262.7 2654.1,261.4 2652.5,259.8 C2651.0,258.3 2649.7,253.3 2650.7,252.3Z" fill="#e9e436"/>
<path d="M2639.4,242.9 C2640.1,242.3 2643.1,243.1 2643.9,244.0 C2644.6,245.0 2644.6,248.0 2643.9,248.6 C2643.1,249.1 2640.1,248.4 2639.4,247.4 C2638.6,246.5 2638.6,243.5 2639.4,242.9Z" fill="#e9e436"/>
<path d="M2618.7,800.8 C2619.5,799.5 2622.9,799.2 2623.6,800.8 C2624.2,802.3 2623.2,808.9 2622.4,810.2 C2621.6,811.4 2619.3,809.9 2618.7,808.3 C2618.0,806.7 2617.8,802.0 2618.7,800.8Z" fill="#e9e436"/>
<path d="M2141.6,270.3 C2143.7,267.8 2150.6,270.7 2155.4,272.8 C2160.2,274.9 2167.1,279.9 2170.4,282.8 C2173.7,285.7 2175.0,286.9 2175.4,290.4 C2175.8,293.9 2174.7,301.5 2173.0,304.0 C2171.3,306.5 2168.3,306.0 2165.4,305.4 C2162.5,304.8 2158.5,301.9 2155.4,300.4 C2152.3,298.9 2148.7,298.7 2146.6,296.6 C2144.5,294.5 2143.6,292.3 2142.8,287.9 C2142.0,283.5 2139.5,272.8 2141.6,270.3Z" fill="#f08a1e"/>
<path d="M2594.0,287.0 C2595.2,282.7 2598.8,275.5 2602.0,272.0 C2605.2,268.5 2609.2,266.2 2613.0,266.0 C2616.8,265.8 2621.6,268.2 2625.0,271.0 C2628.4,273.8 2632.0,278.8 2633.5,283.0 C2635.0,287.2 2635.1,292.2 2634.0,296.0 C2632.9,299.8 2630.5,303.8 2627.0,306.0 C2623.5,308.2 2617.3,309.0 2613.0,309.0 C2608.7,309.0 2604.0,307.8 2601.0,306.0 C2598.0,304.2 2596.2,301.2 2595.0,298.0 C2593.8,294.8 2592.8,291.3 2594.0,287.0Z" fill="#f08a1e"/>
<path d="M2135.5,745.0 C2136.7,740.8 2140.4,733.2 2144.0,729.0 C2147.6,724.8 2152.5,721.7 2157.0,720.0 C2161.5,718.3 2167.4,717.5 2171.0,719.0 C2174.6,720.5 2177.2,725.3 2178.5,729.0 C2179.8,732.7 2180.1,737.0 2179.0,741.0 C2177.9,745.0 2175.2,749.5 2172.0,753.0 C2168.8,756.5 2164.2,761.0 2159.7,762.0 C2155.2,763.0 2148.8,760.3 2145.0,759.0 C2141.2,757.7 2138.6,756.3 2137.0,754.0 C2135.4,751.7 2134.3,749.2 2135.5,745.0Z" fill="#f08a1e"/>
<path d="M2589.0,726.0 C2589.8,723.0 2596.0,724.0 2600.0,724.0 C2604.0,724.0 2609.0,724.8 2613.0,726.0 C2617.0,727.2 2621.1,728.8 2624.0,731.5 C2626.9,734.2 2628.5,737.9 2630.5,742.0 C2632.5,746.1 2634.4,752.0 2636.0,756.0 C2637.6,760.0 2641.0,765.0 2640.0,766.0 C2639.0,767.0 2633.7,763.4 2630.0,762.0 C2626.3,760.6 2622.2,759.3 2618.0,757.5 C2613.8,755.7 2608.8,753.6 2605.0,751.0 C2601.2,748.4 2597.7,746.2 2595.0,742.0 C2592.3,737.8 2588.2,729.0 2589.0,726.0Z" fill="#f08a1e"/>
<path d="M2150.0,279.0 C2152.1,276.5 2159.7,277.0 2162.9,278.5 C2166.1,280.0 2168.3,284.8 2169.0,287.9 C2169.7,291.0 2168.8,295.1 2167.0,297.0 C2165.2,298.9 2160.7,300.1 2157.9,299.5 C2155.2,298.9 2151.8,296.9 2150.5,293.5 C2149.2,290.1 2147.9,281.5 2150.0,279.0Z" fill="#e0271f"/>
<path d="M2597.3,282.4 C2598.2,278.2 2601.9,275.6 2605.6,274.0 C2609.3,272.4 2615.2,271.6 2619.4,272.8 C2623.6,274.0 2628.4,277.6 2630.5,281.0 C2632.6,284.4 2632.7,289.8 2631.8,293.5 C2630.9,297.2 2628.5,300.9 2625.0,303.0 C2621.5,305.1 2615.2,306.7 2611.0,306.0 C2606.8,305.3 2602.3,302.9 2600.0,299.0 C2597.7,295.1 2596.4,286.6 2597.3,282.4Z" fill="#e0271f"/>
<path d="M2140.4,741.0 C2140.8,736.8 2144.9,732.7 2148.6,730.0 C2152.3,727.3 2158.2,724.8 2162.4,724.6 C2166.6,724.4 2171.2,726.4 2173.5,728.7 C2175.8,731.0 2176.7,735.0 2176.2,738.4 C2175.7,741.8 2173.4,746.2 2170.7,749.4 C2167.9,752.6 2163.8,756.8 2159.7,757.7 C2155.6,758.6 2149.1,757.8 2145.9,755.0 C2142.7,752.2 2140.0,745.2 2140.4,741.0Z" fill="#e0271f"/>
<path d="M2594.6,732.8 C2596.0,730.8 2601.5,728.7 2605.6,728.7 C2609.7,728.7 2615.7,730.3 2619.4,732.8 C2623.1,735.3 2625.4,740.2 2627.7,743.9 C2630.0,747.6 2632.5,752.2 2633.0,755.0 C2633.5,757.8 2632.8,760.4 2630.5,760.4 C2628.2,760.4 2623.1,756.8 2619.4,755.0 C2615.7,753.2 2612.1,751.7 2608.4,749.4 C2604.7,747.1 2599.6,743.8 2597.3,741.0 C2595.0,738.2 2593.2,734.8 2594.6,732.8Z" fill="#e0271f"/>
<path d="M2323.0,360.5 C2320.5,355.5 2325.5,349.7 2330.0,345.5 C2334.5,341.3 2340.8,337.7 2350.0,335.5 C2359.2,333.3 2373.3,332.5 2385.0,332.5 C2396.7,332.5 2410.8,333.8 2420.0,335.5 C2429.2,337.2 2435.5,338.7 2440.0,342.5 C2444.5,346.3 2449.5,353.0 2447.0,358.5 C2444.5,364.0 2435.3,369.0 2425.0,375.5 C2414.7,382.0 2398.3,397.5 2385.0,397.5 C2371.7,397.5 2355.3,381.7 2345.0,375.5 C2334.7,369.3 2325.5,365.5 2323.0,360.5Z" fill="#66c283"/>
<path d="M2447.0,668.5 C2449.5,673.5 2444.5,679.3 2440.0,683.5 C2435.5,687.7 2429.2,691.3 2420.0,693.5 C2410.8,695.7 2396.7,696.5 2385.0,696.5 C2373.3,696.5 2359.2,695.2 2350.0,693.5 C2340.8,691.8 2334.5,690.3 2330.0,686.5 C2325.5,682.7 2320.5,676.0 2323.0,670.5 C2325.5,665.0 2334.7,660.0 2345.0,653.5 C2355.3,647.0 2371.7,631.5 2385.0,631.5 C2398.3,631.5 2414.7,647.3 2425.0,653.5 C2435.3,659.7 2444.5,663.5 2447.0,668.5Z" fill="#66c283"/>
<path d="M2228.5,576.5 C2223.5,579.0 2217.7,574.0 2213.5,569.5 C2209.3,565.0 2205.7,558.7 2203.5,549.5 C2201.3,540.3 2200.5,526.2 2200.5,514.5 C2200.5,502.8 2201.8,488.7 2203.5,479.5 C2205.2,470.3 2206.7,464.0 2210.5,459.5 C2214.3,455.0 2221.0,450.0 2226.5,452.5 C2232.0,455.0 2237.0,464.2 2243.5,474.5 C2250.0,484.8 2265.5,501.2 2265.5,514.5 C2265.5,527.8 2249.7,544.2 2243.5,554.5 C2237.3,564.8 2233.5,574.0 2228.5,576.5Z" fill="#66c283"/>
<path d="M2540.5,452.5 C2545.5,450.0 2551.3,455.0 2555.5,459.5 C2559.7,464.0 2563.3,470.3 2565.5,479.5 C2567.7,488.7 2568.5,502.8 2568.5,514.5 C2568.5,526.2 2567.2,540.3 2565.5,549.5 C2563.8,558.7 2562.3,565.0 2558.5,569.5 C2554.7,574.0 2548.0,579.0 2542.5,576.5 C2537.0,574.0 2532.0,564.8 2525.5,554.5 C2519.0,544.2 2503.5,527.8 2503.5,514.5 C2503.5,501.2 2519.3,484.8 2525.5,474.5 C2531.7,464.2 2535.5,455.0 2540.5,452.5Z" fill="#66c283"/>
<path d="M2341.0,370.5 C2339.3,366.3 2341.8,359.2 2345.0,355.5 C2348.2,351.8 2353.3,350.2 2360.0,348.5 C2366.7,346.8 2376.7,345.5 2385.0,345.5 C2393.3,345.5 2403.0,346.8 2410.0,348.5 C2417.0,350.2 2423.3,351.8 2427.0,355.5 C2430.7,359.2 2434.0,366.3 2432.0,370.5 C2430.0,374.7 2422.8,376.0 2415.0,380.5 C2407.2,385.0 2395.0,397.5 2385.0,397.5 C2375.0,397.5 2362.3,385.0 2355.0,380.5 C2347.7,376.0 2342.7,374.7 2341.0,370.5Z" fill="#55b63a"/>
<path d="M2429.0,658.5 C2430.7,662.7 2428.2,669.8 2425.0,673.5 C2421.8,677.2 2416.7,678.8 2410.0,680.5 C2403.3,682.2 2393.3,683.5 2385.0,683.5 C2376.7,683.5 2367.0,682.2 2360.0,680.5 C2353.0,678.8 2346.7,677.2 2343.0,673.5 C2339.3,669.8 2336.0,662.7 2338.0,658.5 C2340.0,654.3 2347.2,653.0 2355.0,648.5 C2362.8,644.0 2375.0,631.5 2385.0,631.5 C2395.0,631.5 2407.7,644.0 2415.0,648.5 C2422.3,653.0 2427.3,654.3 2429.0,658.5Z" fill="#55b63a"/>
<path d="M2238.5,558.5 C2234.3,560.2 2227.2,557.7 2223.5,554.5 C2219.8,551.3 2218.2,546.2 2216.5,539.5 C2214.8,532.8 2213.5,522.8 2213.5,514.5 C2213.5,506.2 2214.8,496.5 2216.5,489.5 C2218.2,482.5 2219.8,476.2 2223.5,472.5 C2227.2,468.8 2234.3,465.5 2238.5,467.5 C2242.7,469.5 2244.0,476.7 2248.5,484.5 C2253.0,492.3 2265.5,504.5 2265.5,514.5 C2265.5,524.5 2253.0,537.2 2248.5,544.5 C2244.0,551.8 2242.7,556.8 2238.5,558.5Z" fill="#55b63a"/>
<path d="M2530.5,470.5 C2534.7,468.8 2541.8,471.3 2545.5,474.5 C2549.2,477.7 2550.8,482.8 2552.5,489.5 C2554.2,496.2 2555.5,506.2 2555.5,514.5 C2555.5,522.8 2554.2,532.5 2552.5,539.5 C2550.8,546.5 2549.2,552.8 2545.5,556.5 C2541.8,560.2 2534.7,563.5 2530.5,561.5 C2526.3,559.5 2525.0,552.3 2520.5,544.5 C2516.0,536.7 2503.5,524.5 2503.5,514.5 C2503.5,504.5 2516.0,491.8 2520.5,484.5 C2525.0,477.2 2526.3,472.2 2530.5,470.5Z" fill="#55b63a"/>
<path d="M2353.0,380.5 C2350.2,376.3 2352.2,368.7 2354.0,365.5 C2355.8,362.3 2360.3,360.8 2364.0,361.5 C2367.7,362.2 2371.7,367.7 2376.0,369.5 C2380.3,371.3 2385.7,372.8 2390.0,372.5 C2394.3,372.2 2398.2,367.8 2402.0,367.5 C2405.8,367.2 2410.3,368.5 2413.0,370.5 C2415.7,372.5 2420.3,376.2 2418.0,379.5 C2415.7,382.8 2404.5,388.0 2399.0,390.5 C2393.5,393.0 2389.7,394.5 2385.0,394.5 C2380.3,394.5 2376.3,392.8 2371.0,390.5 C2365.7,388.2 2355.8,384.7 2353.0,380.5Z" fill="#e9e436"/>
<path d="M2417.0,648.5 C2419.8,652.7 2417.8,660.3 2416.0,663.5 C2414.2,666.7 2409.7,668.2 2406.0,667.5 C2402.3,666.8 2398.3,661.3 2394.0,659.5 C2389.7,657.7 2384.3,656.2 2380.0,656.5 C2375.7,656.8 2371.8,661.2 2368.0,661.5 C2364.2,661.8 2359.7,660.5 2357.0,658.5 C2354.3,656.5 2349.7,652.8 2352.0,649.5 C2354.3,646.2 2365.5,641.0 2371.0,638.5 C2376.5,636.0 2380.3,634.5 2385.0,634.5 C2389.7,634.5 2393.7,636.2 2399.0,638.5 C2404.3,640.8 2414.2,644.3 2417.0,648.5Z" fill="#e9e436"/>
<path d="M2248.5,546.5 C2244.3,549.3 2236.7,547.3 2233.5,545.5 C2230.3,543.7 2228.8,539.2 2229.5,535.5 C2230.2,531.8 2235.7,527.8 2237.5,523.5 C2239.3,519.2 2240.8,513.8 2240.5,509.5 C2240.2,505.2 2235.8,501.3 2235.5,497.5 C2235.2,493.7 2236.5,489.2 2238.5,486.5 C2240.5,483.8 2244.2,479.2 2247.5,481.5 C2250.8,483.8 2256.0,495.0 2258.5,500.5 C2261.0,506.0 2262.5,509.8 2262.5,514.5 C2262.5,519.2 2260.8,523.2 2258.5,528.5 C2256.2,533.8 2252.7,543.7 2248.5,546.5Z" fill="#e9e436"/>
<path d="M2520.5,482.5 C2524.7,479.7 2532.3,481.7 2535.5,483.5 C2538.7,485.3 2540.2,489.8 2539.5,493.5 C2538.8,497.2 2533.3,501.2 2531.5,505.5 C2529.7,509.8 2528.2,515.2 2528.5,519.5 C2528.8,523.8 2533.2,527.7 2533.5,531.5 C2533.8,535.3 2532.5,539.8 2530.5,542.5 C2528.5,545.2 2524.8,549.8 2521.5,547.5 C2518.2,545.2 2513.0,534.0 2510.5,528.5 C2508.0,523.0 2506.5,519.2 2506.5,514.5 C2506.5,509.8 2508.2,505.8 2510.5,500.5 C2512.8,495.2 2516.3,485.3 2520.5,482.5Z" fill="#e9e436"/>
<path d="M2385.0,401.5 L2369.0,392.5 L2353.0,381.5 L2357.0,370.5 L2371.0,375.5 L2385.0,383.5 L2399.0,375.5 L2413.0,369.5 L2418.0,379.5 L2401.0,392.5Z" fill="#f08a1e"/>
<path d="M2385.0,627.5 L2401.0,636.5 L2417.0,647.5 L2413.0,658.5 L2399.0,653.5 L2385.0,645.5 L2371.0,653.5 L2357.0,659.5 L2352.0,649.5 L2369.0,636.5Z" fill="#f08a1e"/>
<path d="M2269.5,514.5 L2260.5,530.5 L2249.5,546.5 L2238.5,542.5 L2243.5,528.5 L2251.5,514.5 L2243.5,500.5 L2237.5,486.5 L2247.5,481.5 L2260.5,498.5Z" fill="#f08a1e"/>
<path d="M2499.5,514.5 L2508.5,498.5 L2519.5,482.5 L2530.5,486.5 L2525.5,500.5 L2517.5,514.5 L2525.5,528.5 L2531.5,542.5 L2521.5,547.5 L2508.5,530.5Z" fill="#f08a1e"/>
<path d="M2385.0,400.5 L2371.0,391.5 L2356.0,381.5 L2360.0,374.5 L2373.0,380.5 L2385.0,388.5 L2397.0,380.5 L2410.0,373.5 L2415.0,379.5 L2399.0,391.5Z" fill="#e0271f"/>
<path d="M2385.0,628.5 L2399.0,637.5 L2414.0,647.5 L2410.0,654.5 L2397.0,648.5 L2385.0,640.5 L2373.0,648.5 L2360.0,655.5 L2355.0,649.5 L2371.0,637.5Z" fill="#e0271f"/>
<path d="M2268.5,514.5 L2259.5,528.5 L2249.5,543.5 L2242.5,539.5 L2248.5,526.5 L2256.5,514.5 L2248.5,502.5 L2241.5,489.5 L2247.5,484.5 L2259.5,500.5Z" fill="#e0271f"/>
<path d="M2500.5,514.5 L2509.5,500.5 L2519.5,485.5 L2526.5,489.5 L2520.5,502.5 L2512.5,514.5 L2520.5,526.5 L2527.5,539.5 L2521.5,544.5 L2509.5,528.5Z" fill="#e0271f"/>
<path d="M2385.0,400.5 L2379.0,394.5 L2385.0,390.5 L2391.0,394.5Z" fill="#8e1c20"/>
<path d="M2385.0,628.5 L2391.0,634.5 L2385.0,638.5 L2379.0,634.5Z" fill="#8e1c20"/>
<path d="M2268.5,514.5 L2262.5,520.5 L2258.5,514.5 L2262.5,508.5Z" fill="#8e1c20"/>
<path d="M2500.5,514.5 L2506.5,508.5 L2510.5,514.5 L2506.5,520.5Z" fill="#8e1c20"/></g>
</g></g>
<g filter="url(#b1)"><path d="M2502.3,514.0 L2502.0,514.5 L2501.1,515.9 L2499.7,518.0 L2497.7,520.6 L2495.1,523.9 L2492.1,527.6 L2488.5,531.8 L2484.5,536.4 L2480.1,541.4 L2475.3,546.7 L2470.1,552.2 L2464.7,557.8 L2459.1,563.6 L2453.3,569.5 L2447.4,575.3 L2441.4,581.1 L2435.4,586.8 L2429.5,592.4 L2423.7,597.7 L2418.1,602.7 L2412.8,607.4 L2407.7,611.7 L2403.0,615.7 L2398.7,619.2 L2394.9,622.2 L2391.6,624.7 L2388.8,626.6 L2386.7,628.1 L2385.4,628.9 L2384.8,629.2 L2384.2,628.9 L2382.9,628.1 L2380.8,626.6 L2378.0,624.7 L2374.7,622.2 L2370.9,619.2 L2366.6,615.7 L2361.9,611.7 L2356.8,607.4 L2351.5,602.7 L2345.9,597.7 L2340.1,592.4 L2334.2,586.8 L2328.2,581.1 L2322.2,575.3 L2316.3,569.5 L2310.5,563.6 L2304.9,557.8 L2299.5,552.2 L2294.3,546.7 L2289.5,541.4 L2285.1,536.4 L2281.1,531.8 L2277.5,527.6 L2274.5,523.9 L2271.9,520.6 L2269.9,518.0 L2268.5,515.9 L2267.6,514.5 L2267.3,514.0 L2267.6,513.5 L2268.5,512.1 L2269.9,510.0 L2271.9,507.4 L2274.5,504.1 L2277.5,500.4 L2281.1,496.2 L2285.1,491.6 L2289.5,486.6 L2294.3,481.3 L2299.5,475.8 L2304.9,470.2 L2310.5,464.4 L2316.3,458.5 L2322.2,452.7 L2328.2,446.9 L2334.2,441.2 L2340.1,435.6 L2345.9,430.3 L2351.5,425.3 L2356.8,420.6 L2361.9,416.3 L2366.6,412.3 L2370.9,408.8 L2374.7,405.8 L2378.0,403.3 L2380.8,401.4 L2382.9,399.9 L2384.2,399.1 L2384.8,398.8 L2385.4,399.1 L2386.7,399.9 L2388.8,401.4 L2391.6,403.3 L2394.9,405.8 L2398.7,408.8 L2403.0,412.3 L2407.7,416.3 L2412.8,420.6 L2418.1,425.3 L2423.7,430.3 L2429.5,435.6 L2435.4,441.2 L2441.4,446.9 L2447.4,452.7 L2453.3,458.5 L2459.1,464.4 L2464.7,470.2 L2470.1,475.8 L2475.3,481.3 L2480.1,486.6 L2484.5,491.6 L2488.5,496.2 L2492.1,500.4 L2495.1,504.1 L2497.7,507.4 L2499.7,510.0 L2501.1,512.1 L2502.0,513.5Z" fill="#2b3f9a"/><path d="M2498.8,514.0 L2498.5,514.5 L2497.7,515.8 L2496.3,517.8 L2494.3,520.4 L2491.8,523.6 L2488.9,527.2 L2485.4,531.3 L2481.5,535.8 L2477.2,540.6 L2472.6,545.7 L2467.6,551.0 L2462.3,556.5 L2456.9,562.1 L2451.2,567.8 L2445.5,573.5 L2439.7,579.1 L2433.9,584.6 L2428.2,590.0 L2422.6,595.1 L2417.1,600.0 L2411.9,604.6 L2407.0,608.8 L2402.4,612.6 L2398.3,616.0 L2394.6,618.9 L2391.4,621.3 L2388.7,623.2 L2386.7,624.6 L2385.3,625.4 L2384.8,625.7 L2384.3,625.4 L2382.9,624.6 L2380.9,623.2 L2378.2,621.3 L2375.0,618.9 L2371.3,616.0 L2367.2,612.6 L2362.6,608.8 L2357.7,604.6 L2352.5,600.0 L2347.0,595.1 L2341.4,590.0 L2335.7,584.6 L2329.9,579.1 L2324.1,573.5 L2318.4,567.8 L2312.7,562.1 L2307.3,556.5 L2302.0,551.0 L2297.0,545.7 L2292.4,540.6 L2288.1,535.8 L2284.2,531.3 L2280.7,527.2 L2277.8,523.6 L2275.3,520.4 L2273.3,517.8 L2271.9,515.8 L2271.1,514.5 L2270.8,514.0 L2271.1,513.5 L2271.9,512.2 L2273.3,510.2 L2275.3,507.6 L2277.8,504.4 L2280.7,500.8 L2284.2,496.7 L2288.1,492.2 L2292.4,487.4 L2297.0,482.3 L2302.0,477.0 L2307.3,471.5 L2312.7,465.9 L2318.4,460.2 L2324.1,454.5 L2329.9,448.9 L2335.7,443.4 L2341.4,438.0 L2347.0,432.9 L2352.5,428.0 L2357.7,423.4 L2362.6,419.2 L2367.2,415.4 L2371.3,412.0 L2375.0,409.1 L2378.2,406.7 L2380.9,404.8 L2382.9,403.4 L2384.3,402.6 L2384.8,402.3 L2385.3,402.6 L2386.7,403.4 L2388.7,404.8 L2391.4,406.7 L2394.6,409.1 L2398.3,412.0 L2402.4,415.4 L2407.0,419.2 L2411.9,423.4 L2417.1,428.0 L2422.6,432.9 L2428.2,438.0 L2433.9,443.4 L2439.7,448.9 L2445.5,454.5 L2451.2,460.2 L2456.9,465.9 L2462.3,471.5 L2467.6,477.0 L2472.6,482.3 L2477.2,487.4 L2481.5,492.2 L2485.4,496.7 L2488.9,500.8 L2491.8,504.4 L2494.3,507.6 L2496.3,510.2 L2497.7,512.2 L2498.5,513.5Z" fill="#fff"/></g>
<rect x="2009.5" y="140.4" width="748.1" height="748.1" fill="none" stroke="#1a1718" stroke-width="3"/>
</svg>
</body></html>
